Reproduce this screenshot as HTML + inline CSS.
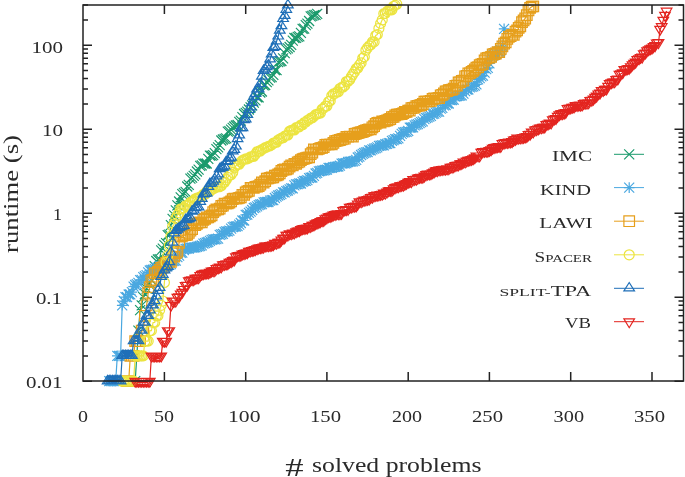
<!DOCTYPE html>
<html><head><meta charset="utf-8"><style>
html,body{margin:0;padding:0;background:#fff;overflow:hidden}
svg{display:block}
text{font-family:"Liberation Serif",serif;fill:#2a2a2a}
svg{-webkit-font-smoothing:antialiased;will-change:transform}
</style></head><body>
<svg width="685" height="477" viewBox="0 0 685 477">
<g stroke="#1a9a6c" fill="none" stroke-width="1.2"><path d="M135.2 381.2L136.8 355.9L138.4 330.6L140.1 310.2L141.7 305.3L143.3 297.2L144.9 293.8L146.6 288.7L148.2 283.6L149.8 283.1L151.4 280.0L153.1 270.4L154.7 266.1L156.3 261.0L157.9 259.5L159.6 259.2L161.2 250.3L162.8 248.7L164.4 245.2L166.1 243.1L167.7 235.1L169.3 234.7L170.9 225.2L172.6 218.8L174.2 215.3L175.8 210.3L177.4 205.4L179.1 201.5L180.7 197.3L182.3 194.1L183.9 192.9L185.6 191.8L187.2 186.5L188.8 184.8L190.4 178.7L192.1 177.6L193.7 175.8L195.3 174.3L196.9 171.5L198.6 169.7L200.2 165.8L201.8 165.4L203.4 163.7L205.1 163.6L206.7 163.5L208.3 158.8L209.9 155.7L211.6 155.7L213.2 155.2L214.8 153.2L216.4 149.1L218.1 147.3L219.7 145.1L221.3 140.5L222.9 139.5L224.6 138.8L226.2 138.3L227.8 131.6L229.4 131.2L231.1 129.7L232.7 127.8L234.3 126.5L235.9 125.5L237.6 125.0L239.2 121.9L240.8 120.6L242.4 117.2L244.1 114.0L245.7 112.9L247.3 111.7L248.9 109.5L250.6 107.3L252.2 105.4L253.8 102.7L255.4 100.4L257.1 97.4L258.7 97.3L260.3 92.5L261.9 91.5L263.6 85.3L265.2 85.0L266.8 82.2L268.4 80.4L270.1 77.6L271.7 77.1L273.3 74.9L274.9 70.2L276.6 70.2L278.2 62.2L279.8 61.4L281.4 61.0L283.1 58.3L284.7 53.2L286.3 49.3L287.9 48.4L289.6 47.0L291.2 44.8L292.8 40.7L294.4 38.0L296.1 37.8L297.7 36.9L299.3 36.3L300.9 32.8L302.6 28.8L304.2 28.6L305.8 25.2L307.4 23.6L309.1 21.0L310.7 16.4L312.3 15.8L313.9 15.2L315.6 14.8L317.2 13.8"/><path d="M130.2 376.2L140.2 386.2M130.2 386.2L140.2 376.2M131.8 350.9L141.8 360.9M131.8 360.9L141.8 350.9M133.4 325.6L143.4 335.6M133.4 335.6L143.4 325.6M135.1 305.2L145.1 315.2M135.1 315.2L145.1 305.2M136.7 300.3L146.7 310.3M136.7 310.3L146.7 300.3M138.3 292.2L148.3 302.2M138.3 302.2L148.3 292.2M139.9 288.8L149.9 298.8M139.9 298.8L149.9 288.8M141.6 283.7L151.6 293.7M141.6 293.7L151.6 283.7M143.2 278.6L153.2 288.6M143.2 288.6L153.2 278.6M144.8 278.1L154.8 288.1M144.8 288.1L154.8 278.1M146.4 275.0L156.4 285.0M146.4 285.0L156.4 275.0M148.1 265.4L158.1 275.4M148.1 275.4L158.1 265.4M149.7 261.1L159.7 271.1M149.7 271.1L159.7 261.1M151.3 256.0L161.3 266.0M151.3 266.0L161.3 256.0M152.9 254.5L162.9 264.5M152.9 264.5L162.9 254.5M154.6 254.2L164.6 264.2M154.6 264.2L164.6 254.2M156.2 245.3L166.2 255.3M156.2 255.3L166.2 245.3M157.8 243.7L167.8 253.7M157.8 253.7L167.8 243.7M159.4 240.2L169.4 250.2M159.4 250.2L169.4 240.2M161.1 238.1L171.1 248.1M161.1 248.1L171.1 238.1M162.7 230.1L172.7 240.1M162.7 240.1L172.7 230.1M164.3 229.7L174.3 239.7M164.3 239.7L174.3 229.7M165.9 220.2L175.9 230.2M165.9 230.2L175.9 220.2M167.6 213.8L177.6 223.8M167.6 223.8L177.6 213.8M169.2 210.3L179.2 220.3M169.2 220.3L179.2 210.3M170.8 205.3L180.8 215.3M170.8 215.3L180.8 205.3M172.4 200.4L182.4 210.4M172.4 210.4L182.4 200.4M174.1 196.5L184.1 206.5M174.1 206.5L184.1 196.5M175.7 192.3L185.7 202.3M175.7 202.3L185.7 192.3M177.3 189.1L187.3 199.1M177.3 199.1L187.3 189.1M178.9 187.9L188.9 197.9M178.9 197.9L188.9 187.9M180.6 186.8L190.6 196.8M180.6 196.8L190.6 186.8M182.2 181.5L192.2 191.5M182.2 191.5L192.2 181.5M183.8 179.8L193.8 189.8M183.8 189.8L193.8 179.8M185.4 173.7L195.4 183.7M185.4 183.7L195.4 173.7M187.1 172.6L197.1 182.6M187.1 182.6L197.1 172.6M188.7 170.8L198.7 180.8M188.7 180.8L198.7 170.8M190.3 169.3L200.3 179.3M190.3 179.3L200.3 169.3M191.9 166.5L201.9 176.5M191.9 176.5L201.9 166.5M193.6 164.7L203.6 174.7M193.6 174.7L203.6 164.7M195.2 160.8L205.2 170.8M195.2 170.8L205.2 160.8M196.8 160.4L206.8 170.4M196.8 170.4L206.8 160.4M198.4 158.7L208.4 168.7M198.4 168.7L208.4 158.7M200.1 158.6L210.1 168.6M200.1 168.6L210.1 158.6M201.7 158.5L211.7 168.5M201.7 168.5L211.7 158.5M203.3 153.8L213.3 163.8M203.3 163.8L213.3 153.8M204.9 150.7L214.9 160.7M204.9 160.7L214.9 150.7M206.6 150.7L216.6 160.7M206.6 160.7L216.6 150.7M208.2 150.2L218.2 160.2M208.2 160.2L218.2 150.2M209.8 148.2L219.8 158.2M209.8 158.2L219.8 148.2M211.4 144.1L221.4 154.1M211.4 154.1L221.4 144.1M213.1 142.3L223.1 152.3M213.1 152.3L223.1 142.3M214.7 140.1L224.7 150.1M214.7 150.1L224.7 140.1M216.3 135.5L226.3 145.5M216.3 145.5L226.3 135.5M217.9 134.5L227.9 144.5M217.9 144.5L227.9 134.5M219.6 133.8L229.6 143.8M219.6 143.8L229.6 133.8M221.2 133.3L231.2 143.3M221.2 143.3L231.2 133.3M222.8 126.6L232.8 136.6M222.8 136.6L232.8 126.6M224.4 126.2L234.4 136.2M224.4 136.2L234.4 126.2M226.1 124.7L236.1 134.7M226.1 134.7L236.1 124.7M227.7 122.8L237.7 132.8M227.7 132.8L237.7 122.8M229.3 121.5L239.3 131.5M229.3 131.5L239.3 121.5M230.9 120.5L240.9 130.5M230.9 130.5L240.9 120.5M232.6 120.0L242.6 130.0M232.6 130.0L242.6 120.0M234.2 116.9L244.2 126.9M234.2 126.9L244.2 116.9M235.8 115.6L245.8 125.6M235.8 125.6L245.8 115.6M237.4 112.2L247.4 122.2M237.4 122.2L247.4 112.2M239.1 109.0L249.1 119.0M239.1 119.0L249.1 109.0M240.7 107.9L250.7 117.9M240.7 117.9L250.7 107.9M242.3 106.7L252.3 116.7M242.3 116.7L252.3 106.7M243.9 104.5L253.9 114.5M243.9 114.5L253.9 104.5M245.6 102.3L255.6 112.3M245.6 112.3L255.6 102.3M247.2 100.4L257.2 110.4M247.2 110.4L257.2 100.4M248.8 97.7L258.8 107.7M248.8 107.7L258.8 97.7M250.4 95.4L260.4 105.4M250.4 105.4L260.4 95.4M252.1 92.4L262.1 102.4M252.1 102.4L262.1 92.4M253.7 92.3L263.7 102.3M253.7 102.3L263.7 92.3M255.3 87.5L265.3 97.5M255.3 97.5L265.3 87.5M256.9 86.5L266.9 96.5M256.9 96.5L266.9 86.5M258.6 80.3L268.6 90.3M258.6 90.3L268.6 80.3M260.2 80.0L270.2 90.0M260.2 90.0L270.2 80.0M261.8 77.2L271.8 87.2M261.8 87.2L271.8 77.2M263.4 75.4L273.4 85.4M263.4 85.4L273.4 75.4M265.1 72.6L275.1 82.6M265.1 82.6L275.1 72.6M266.7 72.1L276.7 82.1M266.7 82.1L276.7 72.1M268.3 69.9L278.3 79.9M268.3 79.9L278.3 69.9M269.9 65.2L279.9 75.2M269.9 75.2L279.9 65.2M271.6 65.2L281.6 75.2M271.6 75.2L281.6 65.2M273.2 57.2L283.2 67.2M273.2 67.2L283.2 57.2M274.8 56.4L284.8 66.4M274.8 66.4L284.8 56.4M276.4 56.0L286.4 66.0M276.4 66.0L286.4 56.0M278.1 53.3L288.1 63.3M278.1 63.3L288.1 53.3M279.7 48.2L289.7 58.2M279.7 58.2L289.7 48.2M281.3 44.3L291.3 54.3M281.3 54.3L291.3 44.3M282.9 43.4L292.9 53.4M282.9 53.4L292.9 43.4M284.6 42.0L294.6 52.0M284.6 52.0L294.6 42.0M286.2 39.8L296.2 49.8M286.2 49.8L296.2 39.8M287.8 35.7L297.8 45.7M287.8 45.7L297.8 35.7M289.4 33.0L299.4 43.0M289.4 43.0L299.4 33.0M291.1 32.8L301.1 42.8M291.1 42.8L301.1 32.8M292.7 31.9L302.7 41.9M292.7 41.9L302.7 31.9M294.3 31.3L304.3 41.3M294.3 41.3L304.3 31.3M295.9 27.8L305.9 37.8M295.9 37.8L305.9 27.8M297.6 23.8L307.6 33.8M297.6 33.8L307.6 23.8M299.2 23.6L309.2 33.6M299.2 33.6L309.2 23.6M300.8 20.2L310.8 30.2M300.8 30.2L310.8 20.2M302.4 18.6L312.4 28.6M302.4 28.6L312.4 18.6M304.1 16.0L314.1 26.0M304.1 26.0L314.1 16.0M305.7 11.4L315.7 21.4M305.7 21.4L315.7 11.4M307.3 10.8L317.3 20.8M307.3 20.8L317.3 10.8M308.9 10.2L318.9 20.2M308.9 20.2L318.9 10.2M310.6 9.8L320.6 19.8M310.6 19.8L320.6 9.8M312.2 8.8L322.2 18.8M312.2 18.8L322.2 8.8"/></g><g stroke="#4aa8e0" fill="none" stroke-width="1.2"><path d="M109.2 381.2L110.8 381.2L112.5 381.2L114.1 381.2L115.7 381.2L117.3 355.9L119.0 355.9L120.6 355.9L122.2 305.3L123.8 301.0L125.5 297.2L127.1 297.2L128.7 294.5L130.3 294.3L131.9 292.1L133.6 286.7L135.2 285.0L136.8 284.2L138.4 282.9L140.1 280.1L141.7 279.9L143.3 277.2L144.9 276.1L146.6 275.2L148.2 272.4L149.8 270.5L151.4 270.0L153.1 269.7L154.7 268.8L156.3 267.6L157.9 267.6L159.6 266.2L161.2 266.1L162.8 266.1L164.4 265.9L166.1 265.7L167.7 265.7L169.3 264.9L170.9 264.1L172.6 261.2L174.2 260.9L175.8 260.6L177.4 257.2L179.1 255.6L180.7 252.9L182.3 252.6L183.9 250.0L185.6 248.9L187.2 248.7L188.8 248.6L190.4 247.7L192.1 247.6L193.7 247.5L195.3 247.3L196.9 246.9L198.6 246.3L200.2 246.0L201.8 245.4L203.4 243.6L205.1 243.2L206.7 242.5L208.3 242.0L209.9 240.8L211.6 239.8L213.2 239.4L214.8 239.3L216.4 239.1L218.1 238.7L219.7 234.9L221.3 234.3L222.9 233.8L224.6 232.0L226.2 231.4L227.8 231.3L229.4 230.7L231.1 228.7L232.7 227.1L234.3 226.7L235.9 226.5L237.6 226.1L239.2 224.7L240.8 223.0L242.4 220.5L244.1 220.5L245.7 214.9L247.3 214.7L248.9 212.8L250.6 211.6L252.2 210.0L253.8 208.0L255.4 207.4L257.1 206.3L258.7 205.1L260.3 204.5L261.9 204.1L263.6 202.4L265.2 202.2L266.8 202.0L268.4 202.0L270.1 200.7L271.7 200.2L273.3 200.1L274.9 198.0L276.6 196.6L278.2 195.5L279.8 194.9L281.4 194.1L283.1 192.4L284.7 192.3L286.3 191.2L287.9 190.5L289.6 189.3L291.2 188.4L292.8 188.3L294.4 185.3L296.1 184.4L297.7 184.2L299.3 183.5L300.9 183.5L302.6 181.8L304.2 181.0L305.8 180.9L307.4 180.2L309.1 178.1L310.7 177.7L312.3 177.5L313.9 175.9L315.6 173.5L317.2 172.8L318.8 171.4L320.4 171.0L322.1 170.6L323.7 170.4L325.3 170.0L326.9 169.6L328.6 168.0L330.2 167.9L331.8 167.9L333.4 167.2L335.1 166.8L336.7 166.6L338.3 166.5L339.9 165.6L341.6 163.6L343.2 163.3L344.8 163.3L346.4 163.2L348.1 162.0L349.7 161.6L351.3 161.6L352.9 161.3L354.6 160.9L356.2 159.9L357.8 157.5L359.4 156.7L361.1 155.0L362.7 153.8L364.3 153.0L365.9 152.3L367.6 152.0L369.2 150.4L370.8 150.3L372.4 149.4L374.1 148.7L375.7 148.1L377.3 147.4L378.9 145.9L380.6 145.7L382.2 145.4L383.8 145.3L385.4 144.2L387.1 143.8L388.7 143.2L390.3 143.1L391.9 140.8L393.6 140.1L395.2 139.2L396.8 139.1L398.4 138.4L400.1 135.9L401.7 133.9L403.3 132.5L404.9 132.2L406.6 131.8L408.2 131.0L409.8 127.6L411.4 127.5L413.1 127.4L414.7 125.3L416.3 124.6L417.9 124.1L419.6 123.2L421.2 122.2L422.8 121.4L424.4 119.1L426.1 118.0L427.7 117.4L429.3 116.6L430.9 115.8L432.6 114.0L434.2 113.7L435.8 112.7L437.4 111.8L439.1 111.7L440.7 108.7L442.3 107.9L443.9 105.3L445.6 105.0L447.2 103.7L448.8 103.5L450.4 100.1L452.1 100.0L453.7 99.6L455.3 96.6L456.9 96.2L458.6 95.9L460.2 95.6L461.8 95.3L463.4 93.7L465.1 91.1L466.7 89.7L468.3 89.5L469.9 87.3L471.6 86.9L473.2 86.4L474.8 85.6L476.4 84.3L478.1 79.3L479.7 78.2L481.3 76.3L482.9 75.6L484.6 72.6L486.2 69.1L487.8 67.8L489.4 63.3L491.1 56.8L492.7 55.5L494.3 55.0L495.9 54.0L497.6 51.7L499.2 51.5L500.8 50.2L502.4 46.1L504.1 28.8"/><path d="M104.2 376.2L114.2 386.2M104.2 386.2L114.2 376.2M109.2 375.9L109.2 386.5M103.9 381.2L114.5 381.2M105.8 376.2L115.8 386.2M105.8 386.2L115.8 376.2M110.8 375.9L110.8 386.5M105.5 381.2L116.1 381.2M107.5 376.2L117.5 386.2M107.5 386.2L117.5 376.2M112.5 375.9L112.5 386.5M107.2 381.2L117.8 381.2M109.1 376.2L119.1 386.2M109.1 386.2L119.1 376.2M114.1 375.9L114.1 386.5M108.8 381.2L119.4 381.2M110.7 376.2L120.7 386.2M110.7 386.2L120.7 376.2M115.7 375.9L115.7 386.5M110.4 381.2L121.0 381.2M112.3 350.9L122.3 360.9M112.3 360.9L122.3 350.9M117.3 350.6L117.3 361.2M112.0 355.9L122.6 355.9M114.0 350.9L124.0 360.9M114.0 360.9L124.0 350.9M119.0 350.6L119.0 361.2M113.7 355.9L124.2 355.9M115.6 350.9L125.6 360.9M115.6 360.9L125.6 350.9M120.6 350.6L120.6 361.2M115.3 355.9L125.9 355.9M117.2 300.3L127.2 310.3M117.2 310.3L127.2 300.3M122.2 300.0L122.2 310.6M116.9 305.3L127.5 305.3M118.8 296.0L128.8 306.0M118.8 306.0L128.8 296.0M123.8 295.7L123.8 306.3M118.5 301.0L129.1 301.0M120.5 292.2L130.4 302.2M120.5 302.2L130.4 292.2M125.5 291.9L125.5 302.5M120.2 297.2L130.8 297.2M122.1 292.2L132.1 302.2M122.1 302.2L132.1 292.2M127.1 291.9L127.1 302.5M121.8 297.2L132.4 297.2M123.7 289.5L133.7 299.5M123.7 299.5L133.7 289.5M128.7 289.2L128.7 299.8M123.4 294.5L134.0 294.5M125.3 289.3L135.3 299.3M125.3 299.3L135.3 289.3M130.3 289.0L130.3 299.6M125.0 294.3L135.6 294.3M126.9 287.1L136.9 297.1M126.9 297.1L136.9 287.1M131.9 286.8L131.9 297.4M126.6 292.1L137.2 292.1M128.6 281.7L138.6 291.7M128.6 291.7L138.6 281.7M133.6 281.4L133.6 292.0M128.3 286.7L138.9 286.7M130.2 280.0L140.2 290.0M130.2 290.0L140.2 280.0M135.2 279.7L135.2 290.3M129.9 285.0L140.5 285.0M131.8 279.2L141.8 289.2M131.8 289.2L141.8 279.2M136.8 278.9L136.8 289.5M131.5 284.2L142.1 284.2M133.4 277.9L143.4 287.9M133.4 287.9L143.4 277.9M138.4 277.6L138.4 288.2M133.1 282.9L143.8 282.9M135.1 275.1L145.1 285.1M135.1 285.1L145.1 275.1M140.1 274.8L140.1 285.4M134.8 280.1L145.4 280.1M136.7 274.9L146.7 284.9M136.7 284.9L146.7 274.9M141.7 274.6L141.7 285.2M136.4 279.9L147.0 279.9M138.3 272.2L148.3 282.2M138.3 282.2L148.3 272.2M143.3 271.9L143.3 282.5M138.0 277.2L148.6 277.2M139.9 271.1L149.9 281.1M139.9 281.1L149.9 271.1M144.9 270.8L144.9 281.4M139.6 276.1L150.2 276.1M141.6 270.2L151.6 280.2M141.6 280.2L151.6 270.2M146.6 269.9L146.6 280.5M141.3 275.2L151.9 275.2M143.2 267.4L153.2 277.4M143.2 277.4L153.2 267.4M148.2 267.1L148.2 277.7M142.9 272.4L153.5 272.4M144.8 265.5L154.8 275.5M144.8 275.5L154.8 265.5M149.8 265.2L149.8 275.8M144.5 270.5L155.1 270.5M146.4 265.0L156.4 275.0M146.4 275.0L156.4 265.0M151.4 264.7L151.4 275.3M146.1 270.0L156.8 270.0M148.1 264.7L158.1 274.7M148.1 274.7L158.1 264.7M153.1 264.4L153.1 275.0M147.8 269.7L158.4 269.7M149.7 263.8L159.7 273.8M149.7 273.8L159.7 263.8M154.7 263.5L154.7 274.1M149.4 268.8L160.0 268.8M151.3 262.6L161.3 272.6M151.3 272.6L161.3 262.6M156.3 262.3L156.3 272.9M151.0 267.6L161.6 267.6M152.9 262.6L162.9 272.6M152.9 272.6L162.9 262.6M157.9 262.3L157.9 272.9M152.6 267.6L163.2 267.6M154.6 261.2L164.6 271.2M154.6 271.2L164.6 261.2M159.6 260.9L159.6 271.5M154.3 266.2L164.9 266.2M156.2 261.1L166.2 271.1M156.2 271.1L166.2 261.1M161.2 260.8L161.2 271.4M155.9 266.1L166.5 266.1M157.8 261.1L167.8 271.1M157.8 271.1L167.8 261.1M162.8 260.8L162.8 271.4M157.5 266.1L168.1 266.1M159.4 260.9L169.4 270.9M159.4 270.9L169.4 260.9M164.4 260.6L164.4 271.2M159.1 265.9L169.8 265.9M161.1 260.7L171.1 270.7M161.1 270.7L171.1 260.7M166.1 260.4L166.1 271.0M160.8 265.7L171.4 265.7M162.7 260.7L172.7 270.7M162.7 270.7L172.7 260.7M167.7 260.4L167.7 271.0M162.4 265.7L173.0 265.7M164.3 259.9L174.3 269.9M164.3 269.9L174.3 259.9M169.3 259.6L169.3 270.2M164.0 264.9L174.6 264.9M165.9 259.1L175.9 269.1M165.9 269.1L175.9 259.1M170.9 258.8L170.9 269.4M165.6 264.1L176.2 264.1M167.6 256.2L177.6 266.2M167.6 266.2L177.6 256.2M172.6 255.9L172.6 266.5M167.3 261.2L177.9 261.2M169.2 255.9L179.2 265.9M169.2 265.9L179.2 255.9M174.2 255.6L174.2 266.2M168.9 260.9L179.5 260.9M170.8 255.6L180.8 265.6M170.8 265.6L180.8 255.6M175.8 255.3L175.8 265.9M170.5 260.6L181.1 260.6M172.4 252.2L182.4 262.2M172.4 262.2L182.4 252.2M177.4 251.9L177.4 262.5M172.1 257.2L182.8 257.2M174.1 250.6L184.1 260.6M174.1 260.6L184.1 250.6M179.1 250.3L179.1 260.9M173.8 255.6L184.4 255.6M175.7 247.9L185.7 257.9M175.7 257.9L185.7 247.9M180.7 247.6L180.7 258.2M175.4 252.9L186.0 252.9M177.3 247.6L187.3 257.6M177.3 257.6L187.3 247.6M182.3 247.3L182.3 257.9M177.0 252.6L187.6 252.6M178.9 245.0L188.9 255.0M178.9 255.0L188.9 245.0M183.9 244.7L183.9 255.3M178.6 250.0L189.2 250.0M180.6 243.9L190.6 253.9M180.6 253.9L190.6 243.9M185.6 243.6L185.6 254.2M180.3 248.9L190.9 248.9M182.2 243.7L192.2 253.7M182.2 253.7L192.2 243.7M187.2 243.4L187.2 254.0M181.9 248.7L192.5 248.7M183.8 243.6L193.8 253.6M183.8 253.6L193.8 243.6M188.8 243.3L188.8 253.9M183.5 248.6L194.1 248.6M185.4 242.7L195.4 252.7M185.4 252.7L195.4 242.7M190.4 242.4L190.4 253.0M185.1 247.7L195.8 247.7M187.1 242.6L197.1 252.6M187.1 252.6L197.1 242.6M192.1 242.3L192.1 252.9M186.8 247.6L197.4 247.6M188.7 242.5L198.7 252.5M188.7 252.5L198.7 242.5M193.7 242.2L193.7 252.8M188.4 247.5L199.0 247.5M190.3 242.3L200.3 252.3M190.3 252.3L200.3 242.3M195.3 242.0L195.3 252.6M190.0 247.3L200.6 247.3M191.9 241.9L201.9 251.9M191.9 251.9L201.9 241.9M196.9 241.6L196.9 252.2M191.6 246.9L202.2 246.9M193.6 241.3L203.6 251.3M193.6 251.3L203.6 241.3M198.6 241.0L198.6 251.6M193.3 246.3L203.9 246.3M195.2 241.0L205.2 251.0M195.2 251.0L205.2 241.0M200.2 240.7L200.2 251.3M194.9 246.0L205.5 246.0M196.8 240.4L206.8 250.4M196.8 250.4L206.8 240.4M201.8 240.1L201.8 250.7M196.5 245.4L207.1 245.4M198.4 238.6L208.4 248.6M198.4 248.6L208.4 238.6M203.4 238.3L203.4 248.9M198.1 243.6L208.8 243.6M200.1 238.2L210.1 248.2M200.1 248.2L210.1 238.2M205.1 237.9L205.1 248.5M199.8 243.2L210.4 243.2M201.7 237.5L211.7 247.5M201.7 247.5L211.7 237.5M206.7 237.2L206.7 247.8M201.4 242.5L212.0 242.5M203.3 237.0L213.3 247.0M203.3 247.0L213.3 237.0M208.3 236.7L208.3 247.3M203.0 242.0L213.6 242.0M204.9 235.8L214.9 245.8M204.9 245.8L214.9 235.8M209.9 235.5L209.9 246.1M204.6 240.8L215.2 240.8M206.6 234.8L216.6 244.8M206.6 244.8L216.6 234.8M211.6 234.5L211.6 245.1M206.3 239.8L216.9 239.8M208.2 234.4L218.2 244.4M208.2 244.4L218.2 234.4M213.2 234.1L213.2 244.7M207.9 239.4L218.5 239.4M209.8 234.3L219.8 244.3M209.8 244.3L219.8 234.3M214.8 234.0L214.8 244.6M209.5 239.3L220.1 239.3M211.4 234.1L221.4 244.1M211.4 244.1L221.4 234.1M216.4 233.8L216.4 244.4M211.1 239.1L221.8 239.1M213.1 233.7L223.1 243.7M213.1 243.7L223.1 233.7M218.1 233.4L218.1 244.0M212.8 238.7L223.4 238.7M214.7 229.9L224.7 239.9M214.7 239.9L224.7 229.9M219.7 229.6L219.7 240.2M214.4 234.9L225.0 234.9M216.3 229.3L226.3 239.3M216.3 239.3L226.3 229.3M221.3 229.0L221.3 239.6M216.0 234.3L226.6 234.3M217.9 228.8L227.9 238.8M217.9 238.8L227.9 228.8M222.9 228.5L222.9 239.1M217.6 233.8L228.2 233.8M219.6 227.0L229.6 237.0M219.6 237.0L229.6 227.0M224.6 226.7L224.6 237.3M219.3 232.0L229.9 232.0M221.2 226.4L231.2 236.4M221.2 236.4L231.2 226.4M226.2 226.1L226.2 236.7M220.9 231.4L231.5 231.4M222.8 226.3L232.8 236.3M222.8 236.3L232.8 226.3M227.8 226.0L227.8 236.6M222.5 231.3L233.1 231.3M224.4 225.7L234.4 235.7M224.4 235.7L234.4 225.7M229.4 225.4L229.4 236.0M224.1 230.7L234.8 230.7M226.1 223.7L236.1 233.7M226.1 233.7L236.1 223.7M231.1 223.4L231.1 234.0M225.8 228.7L236.4 228.7M227.7 222.1L237.7 232.1M227.7 232.1L237.7 222.1M232.7 221.8L232.7 232.4M227.4 227.1L238.0 227.1M229.3 221.7L239.3 231.7M229.3 231.7L239.3 221.7M234.3 221.4L234.3 232.0M229.0 226.7L239.6 226.7M230.9 221.5L240.9 231.5M230.9 231.5L240.9 221.5M235.9 221.2L235.9 231.8M230.6 226.5L241.2 226.5M232.6 221.1L242.6 231.1M232.6 231.1L242.6 221.1M237.6 220.8L237.6 231.4M232.3 226.1L242.9 226.1M234.2 219.7L244.2 229.7M234.2 229.7L244.2 219.7M239.2 219.4L239.2 230.0M233.9 224.7L244.5 224.7M235.8 218.0L245.8 228.0M235.8 228.0L245.8 218.0M240.8 217.7L240.8 228.3M235.5 223.0L246.1 223.0M237.4 215.5L247.4 225.5M237.4 225.5L247.4 215.5M242.4 215.2L242.4 225.8M237.1 220.5L247.8 220.5M239.1 215.5L249.1 225.5M239.1 225.5L249.1 215.5M244.1 215.2L244.1 225.8M238.8 220.5L249.4 220.5M240.7 209.9L250.7 219.9M240.7 219.9L250.7 209.9M245.7 209.6L245.7 220.2M240.4 214.9L251.0 214.9M242.3 209.7L252.3 219.7M242.3 219.7L252.3 209.7M247.3 209.4L247.3 220.0M242.0 214.7L252.6 214.7M243.9 207.8L253.9 217.8M243.9 217.8L253.9 207.8M248.9 207.5L248.9 218.1M243.6 212.8L254.2 212.8M245.6 206.6L255.6 216.6M245.6 216.6L255.6 206.6M250.6 206.3L250.6 216.9M245.3 211.6L255.9 211.6M247.2 205.0L257.2 215.0M247.2 215.0L257.2 205.0M252.2 204.7L252.2 215.3M246.9 210.0L257.5 210.0M248.8 203.0L258.8 213.0M248.8 213.0L258.8 203.0M253.8 202.7L253.8 213.3M248.5 208.0L259.1 208.0M250.4 202.4L260.4 212.4M250.4 212.4L260.4 202.4M255.4 202.1L255.4 212.7M250.1 207.4L260.8 207.4M252.1 201.3L262.1 211.3M252.1 211.3L262.1 201.3M257.1 201.0L257.1 211.6M251.8 206.3L262.4 206.3M253.7 200.1L263.7 210.1M253.7 210.1L263.7 200.1M258.7 199.8L258.7 210.4M253.4 205.1L264.0 205.1M255.3 199.5L265.3 209.5M255.3 209.5L265.3 199.5M260.3 199.2L260.3 209.8M255.0 204.5L265.6 204.5M256.9 199.1L266.9 209.1M256.9 209.1L266.9 199.1M261.9 198.8L261.9 209.4M256.6 204.1L267.2 204.1M258.6 197.4L268.6 207.4M258.6 207.4L268.6 197.4M263.6 197.1L263.6 207.7M258.3 202.4L268.9 202.4M260.2 197.2L270.2 207.2M260.2 207.2L270.2 197.2M265.2 196.9L265.2 207.5M259.9 202.2L270.5 202.2M261.8 197.0L271.8 207.0M261.8 207.0L271.8 197.0M266.8 196.7L266.8 207.3M261.5 202.0L272.1 202.0M263.4 197.0L273.4 207.0M263.4 207.0L273.4 197.0M268.4 196.7L268.4 207.3M263.1 202.0L273.8 202.0M265.1 195.7L275.1 205.7M265.1 205.7L275.1 195.7M270.1 195.4L270.1 206.0M264.8 200.7L275.4 200.7M266.7 195.2L276.7 205.2M266.7 205.2L276.7 195.2M271.7 194.9L271.7 205.5M266.4 200.2L277.0 200.2M268.3 195.1L278.3 205.1M268.3 205.1L278.3 195.1M273.3 194.8L273.3 205.4M268.0 200.1L278.6 200.1M269.9 193.0L279.9 203.0M269.9 203.0L279.9 193.0M274.9 192.7L274.9 203.3M269.6 198.0L280.2 198.0M271.6 191.6L281.6 201.6M271.6 201.6L281.6 191.6M276.6 191.3L276.6 201.9M271.3 196.6L281.9 196.6M273.2 190.5L283.2 200.5M273.2 200.5L283.2 190.5M278.2 190.2L278.2 200.8M272.9 195.5L283.5 195.5M274.8 189.9L284.8 199.9M274.8 199.9L284.8 189.9M279.8 189.6L279.8 200.2M274.5 194.9L285.1 194.9M276.4 189.1L286.4 199.1M276.4 199.1L286.4 189.1M281.4 188.8L281.4 199.4M276.1 194.1L286.8 194.1M278.1 187.4L288.1 197.4M278.1 197.4L288.1 187.4M283.1 187.1L283.1 197.7M277.8 192.4L288.4 192.4M279.7 187.3L289.7 197.3M279.7 197.3L289.7 187.3M284.7 187.0L284.7 197.6M279.4 192.3L290.0 192.3M281.3 186.2L291.3 196.2M281.3 196.2L291.3 186.2M286.3 185.9L286.3 196.5M281.0 191.2L291.6 191.2M282.9 185.5L292.9 195.5M282.9 195.5L292.9 185.5M287.9 185.2L287.9 195.8M282.6 190.5L293.2 190.5M284.6 184.3L294.6 194.3M284.6 194.3L294.6 184.3M289.6 184.0L289.6 194.6M284.3 189.3L294.9 189.3M286.2 183.4L296.2 193.4M286.2 193.4L296.2 183.4M291.2 183.1L291.2 193.7M285.9 188.4L296.5 188.4M287.8 183.3L297.8 193.3M287.8 193.3L297.8 183.3M292.8 183.0L292.8 193.6M287.5 188.3L298.1 188.3M289.4 180.3L299.4 190.3M289.4 190.3L299.4 180.3M294.4 180.0L294.4 190.6M289.1 185.3L299.8 185.3M291.1 179.4L301.1 189.4M291.1 189.4L301.1 179.4M296.1 179.1L296.1 189.7M290.8 184.4L301.4 184.4M292.7 179.2L302.7 189.2M292.7 189.2L302.7 179.2M297.7 178.9L297.7 189.5M292.4 184.2L303.0 184.2M294.3 178.5L304.3 188.5M294.3 188.5L304.3 178.5M299.3 178.2L299.3 188.8M294.0 183.5L304.6 183.5M295.9 178.5L305.9 188.5M295.9 188.5L305.9 178.5M300.9 178.2L300.9 188.8M295.6 183.5L306.2 183.5M297.6 176.8L307.6 186.8M297.6 186.8L307.6 176.8M302.6 176.5L302.6 187.1M297.3 181.8L307.9 181.8M299.2 176.0L309.2 186.0M299.2 186.0L309.2 176.0M304.2 175.7L304.2 186.3M298.9 181.0L309.5 181.0M300.8 175.9L310.8 185.9M300.8 185.9L310.8 175.9M305.8 175.6L305.8 186.2M300.5 180.9L311.1 180.9M302.4 175.2L312.4 185.2M302.4 185.2L312.4 175.2M307.4 174.9L307.4 185.5M302.1 180.2L312.8 180.2M304.1 173.1L314.1 183.1M304.1 183.1L314.1 173.1M309.1 172.8L309.1 183.4M303.8 178.1L314.4 178.1M305.7 172.7L315.7 182.7M305.7 182.7L315.7 172.7M310.7 172.4L310.7 183.0M305.4 177.7L316.0 177.7M307.3 172.5L317.3 182.5M307.3 182.5L317.3 172.5M312.3 172.2L312.3 182.8M307.0 177.5L317.6 177.5M308.9 170.9L318.9 180.9M308.9 180.9L318.9 170.9M313.9 170.6L313.9 181.2M308.6 175.9L319.2 175.9M310.6 168.5L320.6 178.5M310.6 178.5L320.6 168.5M315.6 168.2L315.6 178.8M310.3 173.5L320.9 173.5M312.2 167.8L322.2 177.8M312.2 177.8L322.2 167.8M317.2 167.5L317.2 178.1M311.9 172.8L322.5 172.8M313.8 166.4L323.8 176.4M313.8 176.4L323.8 166.4M318.8 166.1L318.8 176.7M313.5 171.4L324.1 171.4M315.4 166.0L325.4 176.0M315.4 176.0L325.4 166.0M320.4 165.7L320.4 176.3M315.1 171.0L325.8 171.0M317.1 165.6L327.1 175.6M317.1 175.6L327.1 165.6M322.1 165.3L322.1 175.9M316.8 170.6L327.4 170.6M318.7 165.4L328.7 175.4M318.7 175.4L328.7 165.4M323.7 165.1L323.7 175.7M318.4 170.4L329.0 170.4M320.3 165.0L330.3 175.0M320.3 175.0L330.3 165.0M325.3 164.7L325.3 175.3M320.0 170.0L330.6 170.0M321.9 164.6L331.9 174.6M321.9 174.6L331.9 164.6M326.9 164.3L326.9 174.9M321.6 169.6L332.2 169.6M323.6 163.0L333.6 173.0M323.6 173.0L333.6 163.0M328.6 162.7L328.6 173.3M323.3 168.0L333.9 168.0M325.2 162.9L335.2 172.9M325.2 172.9L335.2 162.9M330.2 162.6L330.2 173.2M324.9 167.9L335.5 167.9M326.8 162.9L336.8 172.9M326.8 172.9L336.8 162.9M331.8 162.6L331.8 173.2M326.5 167.9L337.1 167.9M328.4 162.2L338.4 172.2M328.4 172.2L338.4 162.2M333.4 161.9L333.4 172.5M328.1 167.2L338.8 167.2M330.1 161.8L340.1 171.8M330.1 171.8L340.1 161.8M335.1 161.5L335.1 172.1M329.8 166.8L340.4 166.8M331.7 161.6L341.7 171.6M331.7 171.6L341.7 161.6M336.7 161.3L336.7 171.9M331.4 166.6L342.0 166.6M333.3 161.5L343.3 171.5M333.3 171.5L343.3 161.5M338.3 161.2L338.3 171.8M333.0 166.5L343.6 166.5M334.9 160.6L344.9 170.6M334.9 170.6L344.9 160.6M339.9 160.3L339.9 170.9M334.6 165.6L345.2 165.6M336.6 158.6L346.6 168.6M336.6 168.6L346.6 158.6M341.6 158.3L341.6 168.9M336.3 163.6L346.9 163.6M338.2 158.3L348.2 168.3M338.2 168.3L348.2 158.3M343.2 158.0L343.2 168.6M337.9 163.3L348.5 163.3M339.8 158.3L349.8 168.3M339.8 168.3L349.8 158.3M344.8 158.0L344.8 168.6M339.5 163.3L350.1 163.3M341.4 158.2L351.4 168.2M341.4 168.2L351.4 158.2M346.4 157.9L346.4 168.5M341.1 163.2L351.8 163.2M343.1 157.0L353.1 167.0M343.1 167.0L353.1 157.0M348.1 156.7L348.1 167.3M342.8 162.0L353.4 162.0M344.7 156.6L354.7 166.6M344.7 166.6L354.7 156.6M349.7 156.3L349.7 166.9M344.4 161.6L355.0 161.6M346.3 156.6L356.3 166.6M346.3 166.6L356.3 156.6M351.3 156.3L351.3 166.9M346.0 161.6L356.6 161.6M347.9 156.3L357.9 166.3M347.9 166.3L357.9 156.3M352.9 156.0L352.9 166.6M347.6 161.3L358.2 161.3M349.6 155.9L359.6 165.9M349.6 165.9L359.6 155.9M354.6 155.6L354.6 166.2M349.3 160.9L359.9 160.9M351.2 154.9L361.2 164.9M351.2 164.9L361.2 154.9M356.2 154.6L356.2 165.2M350.9 159.9L361.5 159.9M352.8 152.5L362.8 162.5M352.8 162.5L362.8 152.5M357.8 152.2L357.8 162.8M352.5 157.5L363.1 157.5M354.4 151.7L364.4 161.7M354.4 161.7L364.4 151.7M359.4 151.4L359.4 162.0M354.1 156.7L364.8 156.7M356.1 150.0L366.1 160.0M356.1 160.0L366.1 150.0M361.1 149.7L361.1 160.3M355.8 155.0L366.4 155.0M357.7 148.8L367.7 158.8M357.7 158.8L367.7 148.8M362.7 148.5L362.7 159.1M357.4 153.8L368.0 153.8M359.3 148.0L369.3 158.0M359.3 158.0L369.3 148.0M364.3 147.7L364.3 158.3M359.0 153.0L369.6 153.0M360.9 147.3L370.9 157.3M360.9 157.3L370.9 147.3M365.9 147.0L365.9 157.6M360.6 152.3L371.2 152.3M362.6 147.0L372.6 157.0M362.6 157.0L372.6 147.0M367.6 146.7L367.6 157.3M362.3 152.0L372.9 152.0M364.2 145.4L374.2 155.4M364.2 155.4L374.2 145.4M369.2 145.1L369.2 155.7M363.9 150.4L374.5 150.4M365.8 145.3L375.8 155.3M365.8 155.3L375.8 145.3M370.8 145.0L370.8 155.6M365.5 150.3L376.1 150.3M367.4 144.4L377.4 154.4M367.4 154.4L377.4 144.4M372.4 144.1L372.4 154.7M367.1 149.4L377.8 149.4M369.1 143.7L379.1 153.7M369.1 153.7L379.1 143.7M374.1 143.4L374.1 154.0M368.8 148.7L379.4 148.7M370.7 143.1L380.7 153.1M370.7 153.1L380.7 143.1M375.7 142.8L375.7 153.4M370.4 148.1L381.0 148.1M372.3 142.4L382.3 152.4M372.3 152.4L382.3 142.4M377.3 142.1L377.3 152.7M372.0 147.4L382.6 147.4M373.9 140.9L383.9 150.9M373.9 150.9L383.9 140.9M378.9 140.6L378.9 151.2M373.6 145.9L384.2 145.9M375.6 140.7L385.6 150.7M375.6 150.7L385.6 140.7M380.6 140.4L380.6 151.0M375.3 145.7L385.9 145.7M377.2 140.4L387.2 150.4M377.2 150.4L387.2 140.4M382.2 140.1L382.2 150.7M376.9 145.4L387.5 145.4M378.8 140.3L388.8 150.3M378.8 150.3L388.8 140.3M383.8 140.0L383.8 150.6M378.5 145.3L389.1 145.3M380.4 139.2L390.4 149.2M380.4 149.2L390.4 139.2M385.4 138.9L385.4 149.5M380.1 144.2L390.8 144.2M382.1 138.8L392.1 148.8M382.1 148.8L392.1 138.8M387.1 138.5L387.1 149.1M381.8 143.8L392.4 143.8M383.7 138.2L393.7 148.2M383.7 148.2L393.7 138.2M388.7 137.9L388.7 148.5M383.4 143.2L394.0 143.2M385.3 138.1L395.3 148.1M385.3 148.1L395.3 138.1M390.3 137.8L390.3 148.4M385.0 143.1L395.6 143.1M386.9 135.8L396.9 145.8M386.9 145.8L396.9 135.8M391.9 135.5L391.9 146.1M386.6 140.8L397.2 140.8M388.6 135.1L398.6 145.1M388.6 145.1L398.6 135.1M393.6 134.8L393.6 145.4M388.3 140.1L398.9 140.1M390.2 134.2L400.2 144.2M390.2 144.2L400.2 134.2M395.2 133.9L395.2 144.5M389.9 139.2L400.5 139.2M391.8 134.1L401.8 144.1M391.8 144.1L401.8 134.1M396.8 133.8L396.8 144.4M391.5 139.1L402.1 139.1M393.4 133.4L403.4 143.4M393.4 143.4L403.4 133.4M398.4 133.1L398.4 143.7M393.1 138.4L403.8 138.4M395.1 130.9L405.1 140.9M395.1 140.9L405.1 130.9M400.1 130.6L400.1 141.2M394.8 135.9L405.4 135.9M396.7 128.9L406.7 138.9M396.7 138.9L406.7 128.9M401.7 128.6L401.7 139.2M396.4 133.9L407.0 133.9M398.3 127.5L408.3 137.5M398.3 137.5L408.3 127.5M403.3 127.2L403.3 137.8M398.0 132.5L408.6 132.5M399.9 127.2L409.9 137.2M399.9 137.2L409.9 127.2M404.9 126.9L404.9 137.5M399.6 132.2L410.2 132.2M401.6 126.8L411.6 136.8M401.6 136.8L411.6 126.8M406.6 126.5L406.6 137.1M401.3 131.8L411.9 131.8M403.2 126.0L413.2 136.0M403.2 136.0L413.2 126.0M408.2 125.7L408.2 136.3M402.9 131.0L413.5 131.0M404.8 122.6L414.8 132.6M404.8 132.6L414.8 122.6M409.8 122.3L409.8 132.9M404.5 127.6L415.1 127.6M406.4 122.5L416.4 132.5M406.4 132.5L416.4 122.5M411.4 122.2L411.4 132.8M406.1 127.5L416.8 127.5M408.1 122.4L418.1 132.4M408.1 132.4L418.1 122.4M413.1 122.1L413.1 132.7M407.8 127.4L418.4 127.4M409.7 120.3L419.7 130.3M409.7 130.3L419.7 120.3M414.7 120.0L414.7 130.6M409.4 125.3L420.0 125.3M411.3 119.6L421.3 129.6M411.3 129.6L421.3 119.6M416.3 119.3L416.3 129.9M411.0 124.6L421.6 124.6M412.9 119.1L422.9 129.1M412.9 129.1L422.9 119.1M417.9 118.8L417.9 129.4M412.6 124.1L423.2 124.1M414.6 118.2L424.6 128.2M414.6 128.2L424.6 118.2M419.6 117.9L419.6 128.5M414.3 123.2L424.9 123.2M416.2 117.2L426.2 127.2M416.2 127.2L426.2 117.2M421.2 116.9L421.2 127.5M415.9 122.2L426.5 122.2M417.8 116.4L427.8 126.4M417.8 126.4L427.8 116.4M422.8 116.1L422.8 126.7M417.5 121.4L428.1 121.4M419.4 114.1L429.4 124.1M419.4 124.1L429.4 114.1M424.4 113.8L424.4 124.4M419.1 119.1L429.8 119.1M421.1 113.0L431.1 123.0M421.1 123.0L431.1 113.0M426.1 112.7L426.1 123.3M420.8 118.0L431.4 118.0M422.7 112.4L432.7 122.4M422.7 122.4L432.7 112.4M427.7 112.1L427.7 122.7M422.4 117.4L433.0 117.4M424.3 111.6L434.3 121.6M424.3 121.6L434.3 111.6M429.3 111.3L429.3 121.9M424.0 116.6L434.6 116.6M425.9 110.8L435.9 120.8M425.9 120.8L435.9 110.8M430.9 110.5L430.9 121.1M425.6 115.8L436.2 115.8M427.6 109.0L437.6 119.0M427.6 119.0L437.6 109.0M432.6 108.7L432.6 119.3M427.3 114.0L437.9 114.0M429.2 108.7L439.2 118.7M429.2 118.7L439.2 108.7M434.2 108.4L434.2 119.0M428.9 113.7L439.5 113.7M430.8 107.7L440.8 117.7M430.8 117.7L440.8 107.7M435.8 107.4L435.8 118.0M430.5 112.7L441.1 112.7M432.4 106.8L442.4 116.8M432.4 116.8L442.4 106.8M437.4 106.5L437.4 117.1M432.1 111.8L442.8 111.8M434.1 106.7L444.1 116.7M434.1 116.7L444.1 106.7M439.1 106.4L439.1 117.0M433.8 111.7L444.4 111.7M435.7 103.7L445.7 113.7M435.7 113.7L445.7 103.7M440.7 103.4L440.7 114.0M435.4 108.7L446.0 108.7M437.3 102.9L447.3 112.9M437.3 112.9L447.3 102.9M442.3 102.6L442.3 113.2M437.0 107.9L447.6 107.9M438.9 100.3L448.9 110.3M438.9 110.3L448.9 100.3M443.9 100.0L443.9 110.6M438.6 105.3L449.2 105.3M440.6 100.0L450.6 110.0M440.6 110.0L450.6 100.0M445.6 99.7L445.6 110.3M440.3 105.0L450.9 105.0M442.2 98.7L452.2 108.7M442.2 108.7L452.2 98.7M447.2 98.4L447.2 109.0M441.9 103.7L452.5 103.7M443.8 98.5L453.8 108.5M443.8 108.5L453.8 98.5M448.8 98.2L448.8 108.8M443.5 103.5L454.1 103.5M445.4 95.1L455.4 105.1M445.4 105.1L455.4 95.1M450.4 94.8L450.4 105.4M445.1 100.1L455.8 100.1M447.1 95.0L457.1 105.0M447.1 105.0L457.1 95.0M452.1 94.7L452.1 105.3M446.8 100.0L457.4 100.0M448.7 94.6L458.7 104.6M448.7 104.6L458.7 94.6M453.7 94.3L453.7 104.9M448.4 99.6L459.0 99.6M450.3 91.6L460.3 101.6M450.3 101.6L460.3 91.6M455.3 91.3L455.3 101.9M450.0 96.6L460.6 96.6M451.9 91.2L461.9 101.2M451.9 101.2L461.9 91.2M456.9 90.9L456.9 101.5M451.6 96.2L462.2 96.2M453.6 90.9L463.6 100.9M453.6 100.9L463.6 90.9M458.6 90.6L458.6 101.2M453.3 95.9L463.9 95.9M455.2 90.6L465.2 100.6M455.2 100.6L465.2 90.6M460.2 90.3L460.2 100.9M454.9 95.6L465.5 95.6M456.8 90.3L466.8 100.3M456.8 100.3L466.8 90.3M461.8 90.0L461.8 100.6M456.5 95.3L467.1 95.3M458.4 88.7L468.4 98.7M458.4 98.7L468.4 88.7M463.4 88.4L463.4 99.0M458.1 93.7L468.8 93.7M460.1 86.1L470.1 96.1M460.1 96.1L470.1 86.1M465.1 85.8L465.1 96.4M459.8 91.1L470.4 91.1M461.7 84.7L471.7 94.7M461.7 94.7L471.7 84.7M466.7 84.4L466.7 95.0M461.4 89.7L472.0 89.7M463.3 84.5L473.3 94.5M463.3 94.5L473.3 84.5M468.3 84.2L468.3 94.8M463.0 89.5L473.6 89.5M464.9 82.3L474.9 92.3M464.9 92.3L474.9 82.3M469.9 82.0L469.9 92.6M464.6 87.3L475.2 87.3M466.6 81.9L476.6 91.9M466.6 91.9L476.6 81.9M471.6 81.6L471.6 92.2M466.3 86.9L476.9 86.9M468.2 81.4L478.2 91.4M468.2 91.4L478.2 81.4M473.2 81.1L473.2 91.7M467.9 86.4L478.5 86.4M469.8 80.6L479.8 90.6M469.8 90.6L479.8 80.6M474.8 80.3L474.8 90.9M469.5 85.6L480.1 85.6M471.4 79.3L481.4 89.3M471.4 89.3L481.4 79.3M476.4 79.0L476.4 89.6M471.1 84.3L481.8 84.3M473.1 74.3L483.1 84.3M473.1 84.3L483.1 74.3M478.1 74.0L478.1 84.6M472.8 79.3L483.4 79.3M474.7 73.2L484.7 83.2M474.7 83.2L484.7 73.2M479.7 72.9L479.7 83.5M474.4 78.2L485.0 78.2M476.3 71.3L486.3 81.3M476.3 81.3L486.3 71.3M481.3 71.0L481.3 81.6M476.0 76.3L486.6 76.3M477.9 70.6L487.9 80.6M477.9 80.6L487.9 70.6M482.9 70.3L482.9 80.9M477.6 75.6L488.2 75.6M479.6 67.6L489.6 77.6M479.6 77.6L489.6 67.6M484.6 67.3L484.6 77.9M479.3 72.6L489.9 72.6M481.2 64.1L491.2 74.1M481.2 74.1L491.2 64.1M486.2 63.8L486.2 74.4M480.9 69.1L491.5 69.1M482.8 62.8L492.8 72.8M482.8 72.8L492.8 62.8M487.8 62.5L487.8 73.1M482.5 67.8L493.1 67.8M484.4 58.3L494.4 68.3M484.4 68.3L494.4 58.3M489.4 58.0L489.4 68.6M484.1 63.3L494.8 63.3M486.1 51.8L496.1 61.8M486.1 61.8L496.1 51.8M491.1 51.5L491.1 62.1M485.8 56.8L496.4 56.8M487.7 50.5L497.7 60.5M487.7 60.5L497.7 50.5M492.7 50.2L492.7 60.8M487.4 55.5L498.0 55.5M489.3 50.0L499.3 60.0M489.3 60.0L499.3 50.0M494.3 49.7L494.3 60.3M489.0 55.0L499.6 55.0M490.9 49.0L500.9 59.0M490.9 59.0L500.9 49.0M495.9 48.7L495.9 59.3M490.6 54.0L501.2 54.0M492.6 46.7L502.6 56.7M492.6 56.7L502.6 46.7M497.6 46.4L497.6 57.0M492.3 51.7L502.9 51.7M494.2 46.5L504.2 56.5M494.2 56.5L504.2 46.5M499.2 46.2L499.2 56.8M493.9 51.5L504.5 51.5M495.8 45.2L505.8 55.2M495.8 55.2L505.8 45.2M500.8 44.9L500.8 55.5M495.5 50.2L506.1 50.2M497.4 41.1L507.4 51.1M497.4 51.1L507.4 41.1M502.4 40.8L502.4 51.4M497.1 46.1L507.8 46.1M499.1 23.8L509.1 33.8M499.1 33.8L509.1 23.8M504.1 23.5L504.1 34.1M498.8 28.8L509.4 28.8"/></g><g stroke="#e69f1c" fill="none" stroke-width="1.2"><path d="M127.1 381.2L128.7 381.2L130.3 355.9L131.9 355.9L133.6 355.9L135.2 341.1L136.8 341.1L138.4 341.1L140.1 341.1L141.7 330.6L143.3 330.6L144.9 315.8L146.6 305.3L148.2 292.8L149.8 287.1L151.4 280.6L153.1 279.9L154.7 273.4L156.3 273.1L157.9 272.0L159.6 270.0L161.2 268.0L162.8 267.3L164.4 264.9L166.1 263.0L167.7 262.2L169.3 261.9L170.9 261.8L172.6 256.7L174.2 256.6L175.8 253.1L177.4 251.7L179.1 242.8L180.7 236.5L182.3 235.9L183.9 235.1L185.6 235.0L187.2 234.5L188.8 232.8L190.4 230.7L192.1 229.1L193.7 225.2L195.3 225.2L196.9 223.9L198.6 222.6L200.2 222.3L201.8 222.3L203.4 219.9L205.1 218.9L206.7 217.5L208.3 217.4L209.9 216.4L211.6 215.4L213.2 212.1L214.8 210.7L216.4 209.5L218.1 209.4L219.7 208.6L221.3 206.0L222.9 205.6L224.6 203.6L226.2 203.6L227.8 203.4L229.4 202.5L231.1 201.4L232.7 199.2L234.3 198.7L235.9 198.6L237.6 198.4L239.2 197.9L240.8 197.4L242.4 194.9L244.1 194.9L245.7 192.4L247.3 191.4L248.9 190.9L250.6 187.9L252.2 187.9L253.8 187.9L255.4 186.8L257.1 186.6L258.7 186.1L260.3 184.6L261.9 182.5L263.6 182.5L265.2 181.2L266.8 178.6L268.4 178.3L270.1 177.9L271.7 177.5L273.3 177.3L274.9 175.6L276.6 175.3L278.2 174.5L279.8 173.3L281.4 171.0L283.1 169.9L284.7 169.5L286.3 169.3L287.9 168.6L289.6 166.6L291.2 165.3L292.8 165.3L294.4 163.9L296.1 163.8L297.7 162.4L299.3 161.7L300.9 160.2L302.6 159.2L304.2 158.6L305.8 158.1L307.4 157.7L309.1 157.4L310.7 154.2L312.3 152.6L313.9 149.4L315.6 149.3L317.2 149.3L318.8 148.8L320.4 148.2L322.1 147.9L323.7 147.1L325.3 144.9L326.9 144.6L328.6 144.6L330.2 144.4L331.8 144.4L333.4 142.9L335.1 141.2L336.7 140.9L338.3 140.4L339.9 140.0L341.6 139.3L343.2 138.8L344.8 138.7L346.4 136.9L348.1 136.8L349.7 136.7L351.3 136.6L352.9 136.6L354.6 134.0L356.2 133.7L357.8 133.1L359.4 132.7L361.1 132.2L362.7 131.8L364.3 131.0L365.9 130.3L367.6 129.9L369.2 129.4L370.8 129.3L372.4 127.3L374.1 126.1L375.7 123.9L377.3 122.9L378.9 122.7L380.6 122.6L382.2 121.4L383.8 121.3L385.4 120.9L387.1 120.3L388.7 119.6L390.3 119.0L391.9 117.1L393.6 116.9L395.2 115.4L396.8 114.6L398.4 114.4L400.1 114.1L401.7 114.0L403.3 113.1L404.9 112.0L406.6 111.9L408.2 110.7L409.8 110.5L411.4 108.1L413.1 107.8L414.7 107.6L416.3 106.2L417.9 105.8L419.6 105.5L421.2 105.0L422.8 104.0L424.4 101.6L426.1 101.5L427.7 101.4L429.3 101.2L430.9 100.9L432.6 99.0L434.2 98.5L435.8 98.4L437.4 98.2L439.1 98.0L440.7 95.3L442.3 94.8L443.9 93.5L445.6 91.4L447.2 91.1L448.8 90.2L450.4 89.8L452.1 89.7L453.7 88.6L455.3 85.9L456.9 85.6L458.6 82.5L460.2 82.2L461.8 80.8L463.4 80.6L465.1 76.3L466.7 75.9L468.3 73.5L469.9 73.2L471.6 71.8L473.2 70.8L474.8 69.5L476.4 67.7L478.1 67.2L479.7 65.2L481.3 64.5L482.9 63.9L484.6 60.5L486.2 58.5L487.8 57.9L489.4 57.6L491.1 56.8L492.7 54.5L494.3 54.0L495.9 53.5L497.6 52.2L499.2 52.1L500.8 48.9L502.4 46.4L504.1 43.7L505.7 42.4L507.3 38.9L508.9 36.8L510.6 36.2L512.2 34.9L513.8 34.8L515.5 31.7L517.1 30.4L518.7 27.9L520.3 26.3L522.0 22.1L523.6 20.4L525.2 18.5L526.8 15.1L528.5 10.4L530.1 7.9L531.7 6.7L533.3 6.4"/><path d="M121.8 375.9h10.6v10.6h-10.6zM123.4 375.9h10.6v10.6h-10.6zM125.0 350.6h10.6v10.6h-10.6zM126.6 350.6h10.6v10.6h-10.6zM128.3 350.6h10.6v10.6h-10.6zM129.9 335.8h10.6v10.6h-10.6zM131.5 335.8h10.6v10.6h-10.6zM133.1 335.8h10.6v10.6h-10.6zM134.8 335.8h10.6v10.6h-10.6zM136.4 325.3h10.6v10.6h-10.6zM138.0 325.3h10.6v10.6h-10.6zM139.6 310.5h10.6v10.6h-10.6zM141.3 300.0h10.6v10.6h-10.6zM142.9 287.5h10.6v10.6h-10.6zM144.5 281.8h10.6v10.6h-10.6zM146.1 275.3h10.6v10.6h-10.6zM147.8 274.6h10.6v10.6h-10.6zM149.4 268.1h10.6v10.6h-10.6zM151.0 267.8h10.6v10.6h-10.6zM152.6 266.7h10.6v10.6h-10.6zM154.3 264.7h10.6v10.6h-10.6zM155.9 262.7h10.6v10.6h-10.6zM157.5 262.0h10.6v10.6h-10.6zM159.1 259.6h10.6v10.6h-10.6zM160.8 257.7h10.6v10.6h-10.6zM162.4 256.9h10.6v10.6h-10.6zM164.0 256.6h10.6v10.6h-10.6zM165.6 256.5h10.6v10.6h-10.6zM167.3 251.4h10.6v10.6h-10.6zM168.9 251.3h10.6v10.6h-10.6zM170.5 247.8h10.6v10.6h-10.6zM172.1 246.4h10.6v10.6h-10.6zM173.8 237.5h10.6v10.6h-10.6zM175.4 231.2h10.6v10.6h-10.6zM177.0 230.6h10.6v10.6h-10.6zM178.6 229.8h10.6v10.6h-10.6zM180.3 229.7h10.6v10.6h-10.6zM181.9 229.2h10.6v10.6h-10.6zM183.5 227.5h10.6v10.6h-10.6zM185.1 225.4h10.6v10.6h-10.6zM186.8 223.8h10.6v10.6h-10.6zM188.4 219.9h10.6v10.6h-10.6zM190.0 219.9h10.6v10.6h-10.6zM191.6 218.6h10.6v10.6h-10.6zM193.3 217.3h10.6v10.6h-10.6zM194.9 217.0h10.6v10.6h-10.6zM196.5 217.0h10.6v10.6h-10.6zM198.1 214.6h10.6v10.6h-10.6zM199.8 213.6h10.6v10.6h-10.6zM201.4 212.2h10.6v10.6h-10.6zM203.0 212.1h10.6v10.6h-10.6zM204.6 211.1h10.6v10.6h-10.6zM206.3 210.1h10.6v10.6h-10.6zM207.9 206.8h10.6v10.6h-10.6zM209.5 205.4h10.6v10.6h-10.6zM211.1 204.2h10.6v10.6h-10.6zM212.8 204.1h10.6v10.6h-10.6zM214.4 203.3h10.6v10.6h-10.6zM216.0 200.7h10.6v10.6h-10.6zM217.6 200.3h10.6v10.6h-10.6zM219.3 198.3h10.6v10.6h-10.6zM220.9 198.3h10.6v10.6h-10.6zM222.5 198.1h10.6v10.6h-10.6zM224.1 197.2h10.6v10.6h-10.6zM225.8 196.1h10.6v10.6h-10.6zM227.4 193.9h10.6v10.6h-10.6zM229.0 193.4h10.6v10.6h-10.6zM230.6 193.3h10.6v10.6h-10.6zM232.3 193.1h10.6v10.6h-10.6zM233.9 192.6h10.6v10.6h-10.6zM235.5 192.1h10.6v10.6h-10.6zM237.1 189.6h10.6v10.6h-10.6zM238.8 189.6h10.6v10.6h-10.6zM240.4 187.1h10.6v10.6h-10.6zM242.0 186.1h10.6v10.6h-10.6zM243.6 185.6h10.6v10.6h-10.6zM245.3 182.6h10.6v10.6h-10.6zM246.9 182.6h10.6v10.6h-10.6zM248.5 182.6h10.6v10.6h-10.6zM250.1 181.5h10.6v10.6h-10.6zM251.8 181.3h10.6v10.6h-10.6zM253.4 180.8h10.6v10.6h-10.6zM255.0 179.3h10.6v10.6h-10.6zM256.6 177.2h10.6v10.6h-10.6zM258.3 177.2h10.6v10.6h-10.6zM259.9 175.9h10.6v10.6h-10.6zM261.5 173.3h10.6v10.6h-10.6zM263.1 173.0h10.6v10.6h-10.6zM264.8 172.6h10.6v10.6h-10.6zM266.4 172.2h10.6v10.6h-10.6zM268.0 172.0h10.6v10.6h-10.6zM269.6 170.3h10.6v10.6h-10.6zM271.3 170.0h10.6v10.6h-10.6zM272.9 169.2h10.6v10.6h-10.6zM274.5 168.0h10.6v10.6h-10.6zM276.1 165.7h10.6v10.6h-10.6zM277.8 164.6h10.6v10.6h-10.6zM279.4 164.2h10.6v10.6h-10.6zM281.0 164.0h10.6v10.6h-10.6zM282.6 163.3h10.6v10.6h-10.6zM284.3 161.3h10.6v10.6h-10.6zM285.9 160.0h10.6v10.6h-10.6zM287.5 160.0h10.6v10.6h-10.6zM289.1 158.6h10.6v10.6h-10.6zM290.8 158.5h10.6v10.6h-10.6zM292.4 157.1h10.6v10.6h-10.6zM294.0 156.4h10.6v10.6h-10.6zM295.6 154.9h10.6v10.6h-10.6zM297.3 153.9h10.6v10.6h-10.6zM298.9 153.3h10.6v10.6h-10.6zM300.5 152.8h10.6v10.6h-10.6zM302.1 152.4h10.6v10.6h-10.6zM303.8 152.1h10.6v10.6h-10.6zM305.4 148.9h10.6v10.6h-10.6zM307.0 147.3h10.6v10.6h-10.6zM308.6 144.1h10.6v10.6h-10.6zM310.3 144.0h10.6v10.6h-10.6zM311.9 144.0h10.6v10.6h-10.6zM313.5 143.5h10.6v10.6h-10.6zM315.1 142.9h10.6v10.6h-10.6zM316.8 142.6h10.6v10.6h-10.6zM318.4 141.8h10.6v10.6h-10.6zM320.0 139.6h10.6v10.6h-10.6zM321.6 139.3h10.6v10.6h-10.6zM323.3 139.3h10.6v10.6h-10.6zM324.9 139.1h10.6v10.6h-10.6zM326.5 139.1h10.6v10.6h-10.6zM328.1 137.6h10.6v10.6h-10.6zM329.8 135.9h10.6v10.6h-10.6zM331.4 135.6h10.6v10.6h-10.6zM333.0 135.1h10.6v10.6h-10.6zM334.6 134.7h10.6v10.6h-10.6zM336.3 134.0h10.6v10.6h-10.6zM337.9 133.5h10.6v10.6h-10.6zM339.5 133.4h10.6v10.6h-10.6zM341.1 131.6h10.6v10.6h-10.6zM342.8 131.5h10.6v10.6h-10.6zM344.4 131.4h10.6v10.6h-10.6zM346.0 131.3h10.6v10.6h-10.6zM347.6 131.3h10.6v10.6h-10.6zM349.3 128.7h10.6v10.6h-10.6zM350.9 128.4h10.6v10.6h-10.6zM352.5 127.8h10.6v10.6h-10.6zM354.1 127.4h10.6v10.6h-10.6zM355.8 126.9h10.6v10.6h-10.6zM357.4 126.5h10.6v10.6h-10.6zM359.0 125.7h10.6v10.6h-10.6zM360.6 125.0h10.6v10.6h-10.6zM362.3 124.6h10.6v10.6h-10.6zM363.9 124.1h10.6v10.6h-10.6zM365.5 124.0h10.6v10.6h-10.6zM367.1 122.0h10.6v10.6h-10.6zM368.8 120.8h10.6v10.6h-10.6zM370.4 118.6h10.6v10.6h-10.6zM372.0 117.6h10.6v10.6h-10.6zM373.6 117.4h10.6v10.6h-10.6zM375.3 117.3h10.6v10.6h-10.6zM376.9 116.1h10.6v10.6h-10.6zM378.5 116.0h10.6v10.6h-10.6zM380.1 115.6h10.6v10.6h-10.6zM381.8 115.0h10.6v10.6h-10.6zM383.4 114.3h10.6v10.6h-10.6zM385.0 113.7h10.6v10.6h-10.6zM386.6 111.8h10.6v10.6h-10.6zM388.3 111.6h10.6v10.6h-10.6zM389.9 110.1h10.6v10.6h-10.6zM391.5 109.3h10.6v10.6h-10.6zM393.1 109.1h10.6v10.6h-10.6zM394.8 108.8h10.6v10.6h-10.6zM396.4 108.7h10.6v10.6h-10.6zM398.0 107.8h10.6v10.6h-10.6zM399.6 106.7h10.6v10.6h-10.6zM401.3 106.6h10.6v10.6h-10.6zM402.9 105.4h10.6v10.6h-10.6zM404.5 105.2h10.6v10.6h-10.6zM406.1 102.8h10.6v10.6h-10.6zM407.8 102.5h10.6v10.6h-10.6zM409.4 102.3h10.6v10.6h-10.6zM411.0 100.9h10.6v10.6h-10.6zM412.6 100.5h10.6v10.6h-10.6zM414.3 100.2h10.6v10.6h-10.6zM415.9 99.7h10.6v10.6h-10.6zM417.5 98.7h10.6v10.6h-10.6zM419.1 96.3h10.6v10.6h-10.6zM420.8 96.2h10.6v10.6h-10.6zM422.4 96.1h10.6v10.6h-10.6zM424.0 95.9h10.6v10.6h-10.6zM425.6 95.6h10.6v10.6h-10.6zM427.3 93.7h10.6v10.6h-10.6zM428.9 93.2h10.6v10.6h-10.6zM430.5 93.1h10.6v10.6h-10.6zM432.1 92.9h10.6v10.6h-10.6zM433.8 92.7h10.6v10.6h-10.6zM435.4 90.0h10.6v10.6h-10.6zM437.0 89.5h10.6v10.6h-10.6zM438.6 88.2h10.6v10.6h-10.6zM440.3 86.1h10.6v10.6h-10.6zM441.9 85.8h10.6v10.6h-10.6zM443.5 84.9h10.6v10.6h-10.6zM445.1 84.5h10.6v10.6h-10.6zM446.8 84.4h10.6v10.6h-10.6zM448.4 83.3h10.6v10.6h-10.6zM450.0 80.6h10.6v10.6h-10.6zM451.6 80.3h10.6v10.6h-10.6zM453.3 77.2h10.6v10.6h-10.6zM454.9 76.9h10.6v10.6h-10.6zM456.5 75.5h10.6v10.6h-10.6zM458.1 75.3h10.6v10.6h-10.6zM459.8 71.0h10.6v10.6h-10.6zM461.4 70.6h10.6v10.6h-10.6zM463.0 68.2h10.6v10.6h-10.6zM464.6 67.9h10.6v10.6h-10.6zM466.3 66.5h10.6v10.6h-10.6zM467.9 65.5h10.6v10.6h-10.6zM469.5 64.2h10.6v10.6h-10.6zM471.1 62.4h10.6v10.6h-10.6zM472.8 61.9h10.6v10.6h-10.6zM474.4 59.9h10.6v10.6h-10.6zM476.0 59.2h10.6v10.6h-10.6zM477.6 58.6h10.6v10.6h-10.6zM479.3 55.2h10.6v10.6h-10.6zM480.9 53.2h10.6v10.6h-10.6zM482.5 52.6h10.6v10.6h-10.6zM484.1 52.3h10.6v10.6h-10.6zM485.8 51.5h10.6v10.6h-10.6zM487.4 49.2h10.6v10.6h-10.6zM489.0 48.7h10.6v10.6h-10.6zM490.6 48.2h10.6v10.6h-10.6zM492.3 46.9h10.6v10.6h-10.6zM493.9 46.8h10.6v10.6h-10.6zM495.5 43.6h10.6v10.6h-10.6zM497.1 41.1h10.6v10.6h-10.6zM498.8 38.4h10.6v10.6h-10.6zM500.4 37.1h10.6v10.6h-10.6zM502.0 33.6h10.6v10.6h-10.6zM503.6 31.5h10.6v10.6h-10.6zM505.3 30.9h10.6v10.6h-10.6zM506.9 29.6h10.6v10.6h-10.6zM508.5 29.5h10.6v10.6h-10.6zM510.2 26.4h10.6v10.6h-10.6zM511.8 25.1h10.6v10.6h-10.6zM513.4 22.6h10.6v10.6h-10.6zM515.0 21.0h10.6v10.6h-10.6zM516.7 16.8h10.6v10.6h-10.6zM518.3 15.1h10.6v10.6h-10.6zM519.9 13.2h10.6v10.6h-10.6zM521.5 9.8h10.6v10.6h-10.6zM523.2 5.1h10.6v10.6h-10.6zM524.8 2.6h10.6v10.6h-10.6zM526.4 1.4h10.6v10.6h-10.6zM528.0 1.1h10.6v10.6h-10.6z"/></g><g stroke="#ece440" fill="none" stroke-width="1.2"><path d="M122.2 381.2L123.8 381.2L125.5 381.2L127.1 381.2L128.7 381.2L130.3 381.2L131.9 381.2L133.6 381.2L135.2 355.9L136.8 355.9L138.4 355.9L140.1 355.9L141.7 355.9L143.3 355.9L144.9 341.1L146.6 341.1L148.2 341.1L149.8 330.6L151.4 330.6L153.1 322.5L154.7 322.5L156.3 315.8L157.9 315.8L159.6 310.2L161.2 305.3L162.8 301.0L164.4 282.5L166.1 262.4L167.7 255.6L169.3 245.4L170.9 236.3L172.6 226.4L174.2 224.0L175.8 218.3L177.4 215.2L179.1 212.8L180.7 208.8L182.3 208.6L183.9 207.9L185.6 205.8L187.2 205.2L188.8 205.2L190.4 202.4L192.1 201.7L193.7 201.1L195.3 198.8L196.9 198.0L198.6 197.7L200.2 196.8L201.8 196.2L203.4 194.4L205.1 194.2L206.7 191.5L208.3 191.4L209.9 191.4L211.6 189.0L213.2 188.9L214.8 188.1L216.4 187.0L218.1 186.8L219.7 186.7L221.3 185.7L222.9 182.7L224.6 182.3L226.2 179.7L227.8 177.3L229.4 175.3L231.1 174.7L232.7 172.4L234.3 167.8L235.9 165.8L237.6 164.8L239.2 164.2L240.8 162.0L242.4 160.4L244.1 159.5L245.7 158.8L247.3 158.8L248.9 158.1L250.6 156.8L252.2 156.4L253.8 156.3L255.4 154.3L257.1 151.8L258.7 151.1L260.3 151.1L261.9 149.5L263.6 148.6L265.2 147.7L266.8 147.0L268.4 146.3L270.1 145.8L271.7 144.9L273.3 143.1L274.9 142.7L276.6 142.2L278.2 140.0L279.8 139.0L281.4 138.2L283.1 137.7L284.7 136.1L286.3 135.4L287.9 135.1L289.6 131.1L291.2 130.3L292.8 130.1L294.4 130.0L296.1 127.6L297.7 127.4L299.3 126.9L300.9 125.0L302.6 124.7L304.2 122.7L305.8 122.0L307.4 120.4L309.1 119.5L310.7 118.2L312.3 117.9L313.9 116.4L315.6 114.7L317.2 114.0L318.8 113.6L320.4 113.1L322.1 109.1L323.7 108.0L325.3 106.2L326.9 106.0L328.6 101.6L330.2 100.9L331.8 95.8L333.4 93.9L335.1 93.3L336.7 92.1L338.3 91.9L339.9 88.5L341.6 87.4L343.2 87.1L344.8 85.5L346.4 81.5L348.1 81.3L349.7 79.7L351.3 76.8L352.9 74.3L354.6 71.8L356.2 68.7L357.8 68.1L359.4 65.1L361.1 62.9L362.7 58.3L364.3 56.7L365.9 50.3L367.6 47.8L369.2 45.9L370.8 44.7L372.4 41.9L374.1 41.9L375.7 35.5L377.3 34.6L378.9 28.4L380.6 23.4L382.2 19.9L383.8 13.6L385.4 13.3L387.1 11.4L388.7 10.2L390.3 9.9L391.9 9.8L393.6 6.3L395.2 5.4L396.8 4.2"/><path d="M117.2 381.2a5.0 5.0 0 1 0 10.0 0a5.0 5.0 0 1 0 -10.0 0zM118.8 381.2a5.0 5.0 0 1 0 10.0 0a5.0 5.0 0 1 0 -10.0 0zM120.5 381.2a5.0 5.0 0 1 0 10.0 0a5.0 5.0 0 1 0 -10.0 0zM122.1 381.2a5.0 5.0 0 1 0 10.0 0a5.0 5.0 0 1 0 -10.0 0zM123.7 381.2a5.0 5.0 0 1 0 10.0 0a5.0 5.0 0 1 0 -10.0 0zM125.3 381.2a5.0 5.0 0 1 0 10.0 0a5.0 5.0 0 1 0 -10.0 0zM126.9 381.2a5.0 5.0 0 1 0 10.0 0a5.0 5.0 0 1 0 -10.0 0zM128.6 381.2a5.0 5.0 0 1 0 10.0 0a5.0 5.0 0 1 0 -10.0 0zM130.2 355.9a5.0 5.0 0 1 0 10.0 0a5.0 5.0 0 1 0 -10.0 0zM131.8 355.9a5.0 5.0 0 1 0 10.0 0a5.0 5.0 0 1 0 -10.0 0zM133.4 355.9a5.0 5.0 0 1 0 10.0 0a5.0 5.0 0 1 0 -10.0 0zM135.1 355.9a5.0 5.0 0 1 0 10.0 0a5.0 5.0 0 1 0 -10.0 0zM136.7 355.9a5.0 5.0 0 1 0 10.0 0a5.0 5.0 0 1 0 -10.0 0zM138.3 355.9a5.0 5.0 0 1 0 10.0 0a5.0 5.0 0 1 0 -10.0 0zM139.9 341.1a5.0 5.0 0 1 0 10.0 0a5.0 5.0 0 1 0 -10.0 0zM141.6 341.1a5.0 5.0 0 1 0 10.0 0a5.0 5.0 0 1 0 -10.0 0zM143.2 341.1a5.0 5.0 0 1 0 10.0 0a5.0 5.0 0 1 0 -10.0 0zM144.8 330.6a5.0 5.0 0 1 0 10.0 0a5.0 5.0 0 1 0 -10.0 0zM146.4 330.6a5.0 5.0 0 1 0 10.0 0a5.0 5.0 0 1 0 -10.0 0zM148.1 322.5a5.0 5.0 0 1 0 10.0 0a5.0 5.0 0 1 0 -10.0 0zM149.7 322.5a5.0 5.0 0 1 0 10.0 0a5.0 5.0 0 1 0 -10.0 0zM151.3 315.8a5.0 5.0 0 1 0 10.0 0a5.0 5.0 0 1 0 -10.0 0zM152.9 315.8a5.0 5.0 0 1 0 10.0 0a5.0 5.0 0 1 0 -10.0 0zM154.6 310.2a5.0 5.0 0 1 0 10.0 0a5.0 5.0 0 1 0 -10.0 0zM156.2 305.3a5.0 5.0 0 1 0 10.0 0a5.0 5.0 0 1 0 -10.0 0zM157.8 301.0a5.0 5.0 0 1 0 10.0 0a5.0 5.0 0 1 0 -10.0 0zM159.4 282.5a5.0 5.0 0 1 0 10.0 0a5.0 5.0 0 1 0 -10.0 0zM161.1 262.4a5.0 5.0 0 1 0 10.0 0a5.0 5.0 0 1 0 -10.0 0zM162.7 255.6a5.0 5.0 0 1 0 10.0 0a5.0 5.0 0 1 0 -10.0 0zM164.3 245.4a5.0 5.0 0 1 0 10.0 0a5.0 5.0 0 1 0 -10.0 0zM165.9 236.3a5.0 5.0 0 1 0 10.0 0a5.0 5.0 0 1 0 -10.0 0zM167.6 226.4a5.0 5.0 0 1 0 10.0 0a5.0 5.0 0 1 0 -10.0 0zM169.2 224.0a5.0 5.0 0 1 0 10.0 0a5.0 5.0 0 1 0 -10.0 0zM170.8 218.3a5.0 5.0 0 1 0 10.0 0a5.0 5.0 0 1 0 -10.0 0zM172.4 215.2a5.0 5.0 0 1 0 10.0 0a5.0 5.0 0 1 0 -10.0 0zM174.1 212.8a5.0 5.0 0 1 0 10.0 0a5.0 5.0 0 1 0 -10.0 0zM175.7 208.8a5.0 5.0 0 1 0 10.0 0a5.0 5.0 0 1 0 -10.0 0zM177.3 208.6a5.0 5.0 0 1 0 10.0 0a5.0 5.0 0 1 0 -10.0 0zM178.9 207.9a5.0 5.0 0 1 0 10.0 0a5.0 5.0 0 1 0 -10.0 0zM180.6 205.8a5.0 5.0 0 1 0 10.0 0a5.0 5.0 0 1 0 -10.0 0zM182.2 205.2a5.0 5.0 0 1 0 10.0 0a5.0 5.0 0 1 0 -10.0 0zM183.8 205.2a5.0 5.0 0 1 0 10.0 0a5.0 5.0 0 1 0 -10.0 0zM185.4 202.4a5.0 5.0 0 1 0 10.0 0a5.0 5.0 0 1 0 -10.0 0zM187.1 201.7a5.0 5.0 0 1 0 10.0 0a5.0 5.0 0 1 0 -10.0 0zM188.7 201.1a5.0 5.0 0 1 0 10.0 0a5.0 5.0 0 1 0 -10.0 0zM190.3 198.8a5.0 5.0 0 1 0 10.0 0a5.0 5.0 0 1 0 -10.0 0zM191.9 198.0a5.0 5.0 0 1 0 10.0 0a5.0 5.0 0 1 0 -10.0 0zM193.6 197.7a5.0 5.0 0 1 0 10.0 0a5.0 5.0 0 1 0 -10.0 0zM195.2 196.8a5.0 5.0 0 1 0 10.0 0a5.0 5.0 0 1 0 -10.0 0zM196.8 196.2a5.0 5.0 0 1 0 10.0 0a5.0 5.0 0 1 0 -10.0 0zM198.4 194.4a5.0 5.0 0 1 0 10.0 0a5.0 5.0 0 1 0 -10.0 0zM200.1 194.2a5.0 5.0 0 1 0 10.0 0a5.0 5.0 0 1 0 -10.0 0zM201.7 191.5a5.0 5.0 0 1 0 10.0 0a5.0 5.0 0 1 0 -10.0 0zM203.3 191.4a5.0 5.0 0 1 0 10.0 0a5.0 5.0 0 1 0 -10.0 0zM204.9 191.4a5.0 5.0 0 1 0 10.0 0a5.0 5.0 0 1 0 -10.0 0zM206.6 189.0a5.0 5.0 0 1 0 10.0 0a5.0 5.0 0 1 0 -10.0 0zM208.2 188.9a5.0 5.0 0 1 0 10.0 0a5.0 5.0 0 1 0 -10.0 0zM209.8 188.1a5.0 5.0 0 1 0 10.0 0a5.0 5.0 0 1 0 -10.0 0zM211.4 187.0a5.0 5.0 0 1 0 10.0 0a5.0 5.0 0 1 0 -10.0 0zM213.1 186.8a5.0 5.0 0 1 0 10.0 0a5.0 5.0 0 1 0 -10.0 0zM214.7 186.7a5.0 5.0 0 1 0 10.0 0a5.0 5.0 0 1 0 -10.0 0zM216.3 185.7a5.0 5.0 0 1 0 10.0 0a5.0 5.0 0 1 0 -10.0 0zM217.9 182.7a5.0 5.0 0 1 0 10.0 0a5.0 5.0 0 1 0 -10.0 0zM219.6 182.3a5.0 5.0 0 1 0 10.0 0a5.0 5.0 0 1 0 -10.0 0zM221.2 179.7a5.0 5.0 0 1 0 10.0 0a5.0 5.0 0 1 0 -10.0 0zM222.8 177.3a5.0 5.0 0 1 0 10.0 0a5.0 5.0 0 1 0 -10.0 0zM224.4 175.3a5.0 5.0 0 1 0 10.0 0a5.0 5.0 0 1 0 -10.0 0zM226.1 174.7a5.0 5.0 0 1 0 10.0 0a5.0 5.0 0 1 0 -10.0 0zM227.7 172.4a5.0 5.0 0 1 0 10.0 0a5.0 5.0 0 1 0 -10.0 0zM229.3 167.8a5.0 5.0 0 1 0 10.0 0a5.0 5.0 0 1 0 -10.0 0zM230.9 165.8a5.0 5.0 0 1 0 10.0 0a5.0 5.0 0 1 0 -10.0 0zM232.6 164.8a5.0 5.0 0 1 0 10.0 0a5.0 5.0 0 1 0 -10.0 0zM234.2 164.2a5.0 5.0 0 1 0 10.0 0a5.0 5.0 0 1 0 -10.0 0zM235.8 162.0a5.0 5.0 0 1 0 10.0 0a5.0 5.0 0 1 0 -10.0 0zM237.4 160.4a5.0 5.0 0 1 0 10.0 0a5.0 5.0 0 1 0 -10.0 0zM239.1 159.5a5.0 5.0 0 1 0 10.0 0a5.0 5.0 0 1 0 -10.0 0zM240.7 158.8a5.0 5.0 0 1 0 10.0 0a5.0 5.0 0 1 0 -10.0 0zM242.3 158.8a5.0 5.0 0 1 0 10.0 0a5.0 5.0 0 1 0 -10.0 0zM243.9 158.1a5.0 5.0 0 1 0 10.0 0a5.0 5.0 0 1 0 -10.0 0zM245.6 156.8a5.0 5.0 0 1 0 10.0 0a5.0 5.0 0 1 0 -10.0 0zM247.2 156.4a5.0 5.0 0 1 0 10.0 0a5.0 5.0 0 1 0 -10.0 0zM248.8 156.3a5.0 5.0 0 1 0 10.0 0a5.0 5.0 0 1 0 -10.0 0zM250.4 154.3a5.0 5.0 0 1 0 10.0 0a5.0 5.0 0 1 0 -10.0 0zM252.1 151.8a5.0 5.0 0 1 0 10.0 0a5.0 5.0 0 1 0 -10.0 0zM253.7 151.1a5.0 5.0 0 1 0 10.0 0a5.0 5.0 0 1 0 -10.0 0zM255.3 151.1a5.0 5.0 0 1 0 10.0 0a5.0 5.0 0 1 0 -10.0 0zM256.9 149.5a5.0 5.0 0 1 0 10.0 0a5.0 5.0 0 1 0 -10.0 0zM258.6 148.6a5.0 5.0 0 1 0 10.0 0a5.0 5.0 0 1 0 -10.0 0zM260.2 147.7a5.0 5.0 0 1 0 10.0 0a5.0 5.0 0 1 0 -10.0 0zM261.8 147.0a5.0 5.0 0 1 0 10.0 0a5.0 5.0 0 1 0 -10.0 0zM263.4 146.3a5.0 5.0 0 1 0 10.0 0a5.0 5.0 0 1 0 -10.0 0zM265.1 145.8a5.0 5.0 0 1 0 10.0 0a5.0 5.0 0 1 0 -10.0 0zM266.7 144.9a5.0 5.0 0 1 0 10.0 0a5.0 5.0 0 1 0 -10.0 0zM268.3 143.1a5.0 5.0 0 1 0 10.0 0a5.0 5.0 0 1 0 -10.0 0zM269.9 142.7a5.0 5.0 0 1 0 10.0 0a5.0 5.0 0 1 0 -10.0 0zM271.6 142.2a5.0 5.0 0 1 0 10.0 0a5.0 5.0 0 1 0 -10.0 0zM273.2 140.0a5.0 5.0 0 1 0 10.0 0a5.0 5.0 0 1 0 -10.0 0zM274.8 139.0a5.0 5.0 0 1 0 10.0 0a5.0 5.0 0 1 0 -10.0 0zM276.4 138.2a5.0 5.0 0 1 0 10.0 0a5.0 5.0 0 1 0 -10.0 0zM278.1 137.7a5.0 5.0 0 1 0 10.0 0a5.0 5.0 0 1 0 -10.0 0zM279.7 136.1a5.0 5.0 0 1 0 10.0 0a5.0 5.0 0 1 0 -10.0 0zM281.3 135.4a5.0 5.0 0 1 0 10.0 0a5.0 5.0 0 1 0 -10.0 0zM282.9 135.1a5.0 5.0 0 1 0 10.0 0a5.0 5.0 0 1 0 -10.0 0zM284.6 131.1a5.0 5.0 0 1 0 10.0 0a5.0 5.0 0 1 0 -10.0 0zM286.2 130.3a5.0 5.0 0 1 0 10.0 0a5.0 5.0 0 1 0 -10.0 0zM287.8 130.1a5.0 5.0 0 1 0 10.0 0a5.0 5.0 0 1 0 -10.0 0zM289.4 130.0a5.0 5.0 0 1 0 10.0 0a5.0 5.0 0 1 0 -10.0 0zM291.1 127.6a5.0 5.0 0 1 0 10.0 0a5.0 5.0 0 1 0 -10.0 0zM292.7 127.4a5.0 5.0 0 1 0 10.0 0a5.0 5.0 0 1 0 -10.0 0zM294.3 126.9a5.0 5.0 0 1 0 10.0 0a5.0 5.0 0 1 0 -10.0 0zM295.9 125.0a5.0 5.0 0 1 0 10.0 0a5.0 5.0 0 1 0 -10.0 0zM297.6 124.7a5.0 5.0 0 1 0 10.0 0a5.0 5.0 0 1 0 -10.0 0zM299.2 122.7a5.0 5.0 0 1 0 10.0 0a5.0 5.0 0 1 0 -10.0 0zM300.8 122.0a5.0 5.0 0 1 0 10.0 0a5.0 5.0 0 1 0 -10.0 0zM302.4 120.4a5.0 5.0 0 1 0 10.0 0a5.0 5.0 0 1 0 -10.0 0zM304.1 119.5a5.0 5.0 0 1 0 10.0 0a5.0 5.0 0 1 0 -10.0 0zM305.7 118.2a5.0 5.0 0 1 0 10.0 0a5.0 5.0 0 1 0 -10.0 0zM307.3 117.9a5.0 5.0 0 1 0 10.0 0a5.0 5.0 0 1 0 -10.0 0zM308.9 116.4a5.0 5.0 0 1 0 10.0 0a5.0 5.0 0 1 0 -10.0 0zM310.6 114.7a5.0 5.0 0 1 0 10.0 0a5.0 5.0 0 1 0 -10.0 0zM312.2 114.0a5.0 5.0 0 1 0 10.0 0a5.0 5.0 0 1 0 -10.0 0zM313.8 113.6a5.0 5.0 0 1 0 10.0 0a5.0 5.0 0 1 0 -10.0 0zM315.4 113.1a5.0 5.0 0 1 0 10.0 0a5.0 5.0 0 1 0 -10.0 0zM317.1 109.1a5.0 5.0 0 1 0 10.0 0a5.0 5.0 0 1 0 -10.0 0zM318.7 108.0a5.0 5.0 0 1 0 10.0 0a5.0 5.0 0 1 0 -10.0 0zM320.3 106.2a5.0 5.0 0 1 0 10.0 0a5.0 5.0 0 1 0 -10.0 0zM321.9 106.0a5.0 5.0 0 1 0 10.0 0a5.0 5.0 0 1 0 -10.0 0zM323.6 101.6a5.0 5.0 0 1 0 10.0 0a5.0 5.0 0 1 0 -10.0 0zM325.2 100.9a5.0 5.0 0 1 0 10.0 0a5.0 5.0 0 1 0 -10.0 0zM326.8 95.8a5.0 5.0 0 1 0 10.0 0a5.0 5.0 0 1 0 -10.0 0zM328.4 93.9a5.0 5.0 0 1 0 10.0 0a5.0 5.0 0 1 0 -10.0 0zM330.1 93.3a5.0 5.0 0 1 0 10.0 0a5.0 5.0 0 1 0 -10.0 0zM331.7 92.1a5.0 5.0 0 1 0 10.0 0a5.0 5.0 0 1 0 -10.0 0zM333.3 91.9a5.0 5.0 0 1 0 10.0 0a5.0 5.0 0 1 0 -10.0 0zM334.9 88.5a5.0 5.0 0 1 0 10.0 0a5.0 5.0 0 1 0 -10.0 0zM336.6 87.4a5.0 5.0 0 1 0 10.0 0a5.0 5.0 0 1 0 -10.0 0zM338.2 87.1a5.0 5.0 0 1 0 10.0 0a5.0 5.0 0 1 0 -10.0 0zM339.8 85.5a5.0 5.0 0 1 0 10.0 0a5.0 5.0 0 1 0 -10.0 0zM341.4 81.5a5.0 5.0 0 1 0 10.0 0a5.0 5.0 0 1 0 -10.0 0zM343.1 81.3a5.0 5.0 0 1 0 10.0 0a5.0 5.0 0 1 0 -10.0 0zM344.7 79.7a5.0 5.0 0 1 0 10.0 0a5.0 5.0 0 1 0 -10.0 0zM346.3 76.8a5.0 5.0 0 1 0 10.0 0a5.0 5.0 0 1 0 -10.0 0zM347.9 74.3a5.0 5.0 0 1 0 10.0 0a5.0 5.0 0 1 0 -10.0 0zM349.6 71.8a5.0 5.0 0 1 0 10.0 0a5.0 5.0 0 1 0 -10.0 0zM351.2 68.7a5.0 5.0 0 1 0 10.0 0a5.0 5.0 0 1 0 -10.0 0zM352.8 68.1a5.0 5.0 0 1 0 10.0 0a5.0 5.0 0 1 0 -10.0 0zM354.4 65.1a5.0 5.0 0 1 0 10.0 0a5.0 5.0 0 1 0 -10.0 0zM356.1 62.9a5.0 5.0 0 1 0 10.0 0a5.0 5.0 0 1 0 -10.0 0zM357.7 58.3a5.0 5.0 0 1 0 10.0 0a5.0 5.0 0 1 0 -10.0 0zM359.3 56.7a5.0 5.0 0 1 0 10.0 0a5.0 5.0 0 1 0 -10.0 0zM360.9 50.3a5.0 5.0 0 1 0 10.0 0a5.0 5.0 0 1 0 -10.0 0zM362.6 47.8a5.0 5.0 0 1 0 10.0 0a5.0 5.0 0 1 0 -10.0 0zM364.2 45.9a5.0 5.0 0 1 0 10.0 0a5.0 5.0 0 1 0 -10.0 0zM365.8 44.7a5.0 5.0 0 1 0 10.0 0a5.0 5.0 0 1 0 -10.0 0zM367.4 41.9a5.0 5.0 0 1 0 10.0 0a5.0 5.0 0 1 0 -10.0 0zM369.1 41.9a5.0 5.0 0 1 0 10.0 0a5.0 5.0 0 1 0 -10.0 0zM370.7 35.5a5.0 5.0 0 1 0 10.0 0a5.0 5.0 0 1 0 -10.0 0zM372.3 34.6a5.0 5.0 0 1 0 10.0 0a5.0 5.0 0 1 0 -10.0 0zM373.9 28.4a5.0 5.0 0 1 0 10.0 0a5.0 5.0 0 1 0 -10.0 0zM375.6 23.4a5.0 5.0 0 1 0 10.0 0a5.0 5.0 0 1 0 -10.0 0zM377.2 19.9a5.0 5.0 0 1 0 10.0 0a5.0 5.0 0 1 0 -10.0 0zM378.8 13.6a5.0 5.0 0 1 0 10.0 0a5.0 5.0 0 1 0 -10.0 0zM380.4 13.3a5.0 5.0 0 1 0 10.0 0a5.0 5.0 0 1 0 -10.0 0zM382.1 11.4a5.0 5.0 0 1 0 10.0 0a5.0 5.0 0 1 0 -10.0 0zM383.7 10.2a5.0 5.0 0 1 0 10.0 0a5.0 5.0 0 1 0 -10.0 0zM385.3 9.9a5.0 5.0 0 1 0 10.0 0a5.0 5.0 0 1 0 -10.0 0zM386.9 9.8a5.0 5.0 0 1 0 10.0 0a5.0 5.0 0 1 0 -10.0 0zM388.6 6.3a5.0 5.0 0 1 0 10.0 0a5.0 5.0 0 1 0 -10.0 0zM390.2 5.4a5.0 5.0 0 1 0 10.0 0a5.0 5.0 0 1 0 -10.0 0zM391.8 4.2a5.0 5.0 0 1 0 10.0 0a5.0 5.0 0 1 0 -10.0 0z"/></g><g stroke="#1f6fb8" fill="none" stroke-width="1.2"><path d="M107.6 381.2L109.2 381.2L110.8 381.2L112.5 381.2L114.1 381.2L115.7 381.2L117.3 381.2L119.0 381.2L120.6 381.2L122.2 355.9L123.8 355.9L125.5 355.9L127.1 355.9L128.7 355.9L130.3 355.9L131.9 355.9L133.6 341.1L135.2 341.1L136.8 341.1L138.4 341.1L140.1 330.6L141.7 330.6L143.3 322.5L144.9 322.5L146.6 315.8L148.2 315.8L149.8 310.2L151.4 305.3L153.1 305.3L154.7 301.0L156.3 296.2L157.9 290.7L159.6 287.7L161.2 276.8L162.8 274.8L164.4 270.2L166.1 268.4L167.7 266.8L169.3 262.1L170.9 252.4L172.6 242.6L174.2 233.3L175.8 230.7L177.4 229.6L179.1 228.1L180.7 227.1L182.3 226.3L183.9 225.9L185.6 220.0L187.2 219.5L188.8 219.0L190.4 218.1L192.1 211.5L193.7 210.4L195.3 208.0L196.9 207.2L198.6 207.2L200.2 201.7L201.8 198.8L203.4 194.4L205.1 193.9L206.7 193.4L208.3 186.8L209.9 183.9L211.6 183.3L213.2 181.5L214.8 179.6L216.4 176.3L218.1 174.2L219.7 169.1L221.3 168.0L222.9 167.6L224.6 166.2L226.2 161.9L227.8 161.1L229.4 158.6L231.1 157.5L232.7 151.3L234.3 149.8L235.9 146.4L237.6 139.1L239.2 135.3L240.8 128.4L242.4 128.1L244.1 120.0L245.7 119.3L247.3 114.8L248.9 109.9L250.6 107.2L252.2 102.8L253.8 97.1L255.4 93.7L257.1 89.3L258.7 89.2L260.3 83.9L261.9 76.5L263.6 70.7L265.2 69.3L266.8 67.1L268.4 65.5L270.1 59.3L271.7 54.3L273.3 47.8L274.9 46.8L276.6 41.3L278.2 36.4L279.8 30.6L281.4 26.0L283.1 18.9L284.7 15.8L286.3 9.7L287.9 5.3"/><path d="M107.6 375.4L112.9 383.8H102.3zM109.2 375.4L114.5 383.8H103.9zM110.8 375.4L116.1 383.8H105.5zM112.5 375.4L117.8 383.8H107.2zM114.1 375.4L119.4 383.8H108.8zM115.7 375.4L121.0 383.8H110.4zM117.3 375.4L122.6 383.8H112.0zM119.0 375.4L124.2 383.8H113.7zM120.6 375.4L125.9 383.8H115.3zM122.2 350.1L127.5 358.5H116.9zM123.8 350.1L129.1 358.5H118.5zM125.5 350.1L130.8 358.5H120.2zM127.1 350.1L132.4 358.5H121.8zM128.7 350.1L134.0 358.5H123.4zM130.3 350.1L135.6 358.5H125.0zM131.9 350.1L137.2 358.5H126.6zM133.6 335.3L138.9 343.7H128.3zM135.2 335.3L140.5 343.7H129.9zM136.8 335.3L142.1 343.7H131.5zM138.4 335.3L143.8 343.7H133.1zM140.1 324.8L145.4 333.2H134.8zM141.7 324.8L147.0 333.2H136.4zM143.3 316.7L148.6 325.1H138.0zM144.9 316.7L150.2 325.1H139.6zM146.6 310.0L151.9 318.4H141.3zM148.2 310.0L153.5 318.4H142.9zM149.8 304.4L155.1 312.8H144.5zM151.4 299.5L156.8 307.9H146.1zM153.1 299.5L158.4 307.9H147.8zM154.7 295.2L160.0 303.6H149.4zM156.3 290.4L161.6 298.8H151.0zM157.9 284.9L163.2 293.3H152.6zM159.6 281.9L164.9 290.3H154.3zM161.2 271.0L166.5 279.4H155.9zM162.8 269.0L168.1 277.4H157.5zM164.4 264.4L169.8 272.8H159.1zM166.1 262.6L171.4 271.0H160.8zM167.7 261.0L173.0 269.4H162.4zM169.3 256.3L174.6 264.7H164.0zM170.9 246.6L176.2 255.0H165.6zM172.6 236.8L177.9 245.2H167.3zM174.2 227.5L179.5 235.9H168.9zM175.8 224.9L181.1 233.3H170.5zM177.4 223.8L182.8 232.2H172.1zM179.1 222.3L184.4 230.7H173.8zM180.7 221.3L186.0 229.7H175.4zM182.3 220.5L187.6 228.9H177.0zM183.9 220.1L189.2 228.5H178.6zM185.6 214.2L190.9 222.6H180.3zM187.2 213.7L192.5 222.1H181.9zM188.8 213.2L194.1 221.6H183.5zM190.4 212.3L195.8 220.7H185.1zM192.1 205.7L197.4 214.1H186.8zM193.7 204.6L199.0 213.0H188.4zM195.3 202.2L200.6 210.6H190.0zM196.9 201.4L202.2 209.8H191.6zM198.6 201.4L203.9 209.8H193.3zM200.2 195.9L205.5 204.3H194.9zM201.8 193.0L207.1 201.4H196.5zM203.4 188.6L208.8 197.0H198.1zM205.1 188.1L210.4 196.5H199.8zM206.7 187.6L212.0 196.0H201.4zM208.3 181.0L213.6 189.4H203.0zM209.9 178.1L215.2 186.5H204.6zM211.6 177.5L216.9 185.9H206.3zM213.2 175.7L218.5 184.1H207.9zM214.8 173.8L220.1 182.2H209.5zM216.4 170.5L221.8 178.9H211.1zM218.1 168.4L223.4 176.8H212.8zM219.7 163.3L225.0 171.7H214.4zM221.3 162.2L226.6 170.6H216.0zM222.9 161.8L228.2 170.2H217.6zM224.6 160.4L229.9 168.8H219.3zM226.2 156.1L231.5 164.5H220.9zM227.8 155.3L233.1 163.7H222.5zM229.4 152.8L234.8 161.2H224.1zM231.1 151.7L236.4 160.1H225.8zM232.7 145.5L238.0 153.9H227.4zM234.3 144.0L239.6 152.4H229.0zM235.9 140.6L241.2 149.0H230.6zM237.6 133.3L242.9 141.7H232.3zM239.2 129.5L244.5 137.9H233.9zM240.8 122.6L246.1 131.0H235.5zM242.4 122.3L247.8 130.7H237.1zM244.1 114.2L249.4 122.6H238.8zM245.7 113.5L251.0 121.9H240.4zM247.3 109.0L252.6 117.4H242.0zM248.9 104.1L254.2 112.5H243.6zM250.6 101.4L255.9 109.8H245.3zM252.2 97.0L257.5 105.4H246.9zM253.8 91.3L259.1 99.7H248.5zM255.4 87.9L260.8 96.3H250.1zM257.1 83.5L262.4 91.9H251.8zM258.7 83.4L264.0 91.8H253.4zM260.3 78.1L265.6 86.5H255.0zM261.9 70.7L267.2 79.1H256.6zM263.6 64.9L268.9 73.3H258.3zM265.2 63.5L270.5 71.9H259.9zM266.8 61.3L272.1 69.7H261.5zM268.4 59.7L273.8 68.1H263.1zM270.1 53.5L275.4 61.9H264.8zM271.7 48.5L277.0 56.9H266.4zM273.3 42.0L278.6 50.4H268.0zM274.9 41.0L280.2 49.4H269.6zM276.6 35.5L281.9 43.9H271.3zM278.2 30.6L283.5 39.0H272.9zM279.8 24.8L285.1 33.2H274.5zM281.4 20.2L286.8 28.6H276.1zM283.1 13.1L288.4 21.5H277.8zM284.7 10.0L290.0 18.4H279.4zM286.3 3.9L291.6 12.3H281.0zM287.9 -0.5L293.2 7.9H282.6z"/></g><g stroke="#e3241f" fill="none" stroke-width="1.2"><path d="M135.2 381.2L136.8 381.2L138.4 381.2L140.1 381.2L141.7 381.2L143.3 381.2L144.9 381.2L146.6 381.2L148.2 381.2L149.8 381.2L151.4 355.9L153.1 355.9L154.7 355.9L156.3 355.9L157.9 355.9L159.6 355.9L161.2 355.9L162.8 341.1L164.4 341.1L166.1 341.1L167.7 330.6L169.3 330.6L170.9 305.3L172.6 301.0L174.2 301.0L175.8 301.0L177.4 297.2L179.1 296.6L180.7 293.9L182.3 292.1L183.9 289.3L185.6 285.3L187.2 285.1L188.8 280.6L190.4 280.2L192.1 279.7L193.7 279.6L195.3 278.2L196.9 277.9L198.6 277.7L200.2 275.5L201.8 274.1L203.4 273.6L205.1 273.1L206.7 272.9L208.3 272.8L209.9 272.1L211.6 271.0L213.2 270.7L214.8 270.5L216.4 268.5L218.1 267.9L219.7 267.0L221.3 266.8L222.9 264.7L224.6 264.4L226.2 263.9L227.8 263.6L229.4 262.2L231.1 261.7L232.7 260.5L234.3 259.9L235.9 256.6L237.6 255.7L239.2 255.3L240.8 255.1L242.4 253.9L244.1 253.5L245.7 253.0L247.3 252.6L248.9 251.1L250.6 250.8L252.2 250.4L253.8 250.0L255.4 249.5L257.1 248.6L258.7 248.0L260.3 247.6L261.9 247.4L263.6 247.0L265.2 245.9L266.8 245.6L268.4 245.6L270.1 245.4L271.7 245.1L273.3 244.6L274.9 243.2L276.6 243.1L278.2 242.2L279.8 241.9L281.4 240.0L283.1 238.1L284.7 237.8L286.3 235.2L287.9 235.0L289.6 233.7L291.2 233.7L292.8 232.9L294.4 232.8L296.1 231.7L297.7 230.9L299.3 230.6L300.9 229.4L302.6 228.6L304.2 228.3L305.8 228.1L307.4 227.9L309.1 226.4L310.7 226.4L312.3 225.2L313.9 224.9L315.6 223.7L317.2 222.8L318.8 222.4L320.4 221.5L322.1 220.7L323.7 220.4L325.3 218.7L326.9 217.8L328.6 216.6L330.2 216.3L331.8 215.8L333.4 214.8L335.1 214.4L336.7 213.8L338.3 213.7L339.9 213.7L341.6 213.3L343.2 210.3L344.8 209.9L346.4 209.5L348.1 209.3L349.7 207.2L351.3 207.0L352.9 206.3L354.6 206.1L356.2 205.9L357.8 204.0L359.4 201.7L361.1 201.7L362.7 200.8L364.3 200.0L365.9 199.8L367.6 199.3L369.2 199.0L370.8 197.3L372.4 197.1L374.1 195.6L375.7 195.4L377.3 195.0L378.9 194.8L380.6 194.3L382.2 194.2L383.8 193.0L385.4 193.0L387.1 191.8L388.7 190.6L390.3 190.4L391.9 190.4L393.6 188.6L395.2 187.5L396.8 186.9L398.4 186.7L400.1 185.6L401.7 185.3L403.3 185.1L404.9 184.1L406.6 183.3L408.2 182.1L409.8 181.5L411.4 181.5L413.1 179.5L414.7 179.3L416.3 179.2L417.9 178.0L419.6 177.4L421.2 177.2L422.8 177.1L424.4 176.0L426.1 174.5L427.7 174.0L429.3 173.9L430.9 173.6L432.6 172.6L434.2 171.8L435.8 170.7L437.4 170.5L439.1 169.8L440.7 169.7L442.3 169.3L443.9 169.1L445.6 169.1L447.2 168.7L448.8 168.6L450.4 167.2L452.1 167.0L453.7 166.6L455.3 165.3L456.9 165.2L458.6 164.8L460.2 163.6L461.8 163.4L463.4 162.0L465.1 161.9L466.7 160.9L468.3 160.1L469.9 159.8L471.6 159.4L473.2 158.6L474.8 157.7L476.4 155.8L478.1 155.8L479.7 155.8L481.3 152.1L482.9 151.5L484.6 151.3L486.2 151.2L487.8 151.1L489.4 150.4L491.1 149.6L492.7 148.1L494.3 147.3L495.9 147.1L497.6 146.6L499.2 146.3L500.8 146.3L502.4 143.3L504.1 143.0L505.7 142.4L507.3 142.4L508.9 142.0L510.6 141.9L512.2 141.5L513.8 140.0L515.5 139.4L517.1 138.0L518.7 138.0L520.3 137.8L522.0 137.6L523.6 137.4L525.2 136.9L526.8 136.4L528.5 134.5L530.1 134.1L531.7 132.0L533.3 131.8L535.0 129.8L536.6 129.5L538.2 128.9L539.8 127.8L541.5 127.7L543.1 127.2L544.7 126.9L546.3 124.4L548.0 124.0L549.6 122.9L551.2 122.8L552.8 119.6L554.5 118.9L556.1 118.3L557.7 116.1L559.3 114.7L561.0 113.6L562.6 113.5L564.2 113.0L565.8 112.3L567.5 108.5L569.1 108.2L570.7 107.9L572.3 107.2L574.0 106.9L575.6 105.4L577.2 105.3L578.8 105.1L580.5 105.0L582.1 104.9L583.7 103.4L585.3 103.0L587.0 103.0L588.6 102.7L590.2 100.3L591.8 100.1L593.5 99.0L595.1 97.2L596.7 96.0L598.3 93.8L600.0 93.0L601.6 90.5L603.2 90.4L604.8 89.1L606.5 88.9L608.1 86.1L609.7 83.4L611.3 82.6L613.0 81.8L614.6 81.7L616.2 79.4L617.8 78.9L619.5 74.2L621.1 73.7L622.7 72.7L624.3 69.4L626.0 69.3L627.6 68.7L629.2 68.3L630.8 66.7L632.5 64.6L634.1 63.2L635.7 62.0L637.3 59.5L639.0 58.7L640.6 57.3L642.2 57.0L643.8 53.7L645.5 52.9L647.1 50.7L648.7 49.6L650.3 48.6L652.0 48.0L653.6 46.5L655.2 45.5L656.8 42.8L658.5 42.5L660.1 29.1L661.7 26.5L663.3 20.1L665.0 15.2L666.6 11.0"/><path d="M135.2 387.2L140.5 378.4H129.9zM136.8 387.2L142.1 378.4H131.5zM138.4 387.2L143.8 378.4H133.1zM140.1 387.2L145.4 378.4H134.8zM141.7 387.2L147.0 378.4H136.4zM143.3 387.2L148.6 378.4H138.0zM144.9 387.2L150.2 378.4H139.6zM146.6 387.2L151.9 378.4H141.3zM148.2 387.2L153.5 378.4H142.9zM149.8 387.2L155.1 378.4H144.5zM151.4 361.9L156.8 353.1H146.1zM153.1 361.9L158.4 353.1H147.8zM154.7 361.9L160.0 353.1H149.4zM156.3 361.9L161.6 353.1H151.0zM157.9 361.9L163.2 353.1H152.6zM159.6 361.9L164.9 353.1H154.3zM161.2 361.9L166.5 353.1H155.9zM162.8 347.1L168.1 338.3H157.5zM164.4 347.1L169.8 338.3H159.1zM166.1 347.1L171.4 338.3H160.8zM167.7 336.6L173.0 327.8H162.4zM169.3 336.6L174.6 327.8H164.0zM170.9 311.3L176.2 302.5H165.6zM172.6 307.0L177.9 298.2H167.3zM174.2 307.0L179.5 298.2H168.9zM175.8 307.0L181.1 298.2H170.5zM177.4 303.2L182.8 294.4H172.1zM179.1 302.6L184.4 293.8H173.8zM180.7 299.9L186.0 291.1H175.4zM182.3 298.1L187.6 289.3H177.0zM183.9 295.3L189.2 286.5H178.6zM185.6 291.3L190.9 282.5H180.3zM187.2 291.1L192.5 282.3H181.9zM188.8 286.6L194.1 277.8H183.5zM190.4 286.2L195.8 277.4H185.1zM192.1 285.7L197.4 276.9H186.8zM193.7 285.6L199.0 276.8H188.4zM195.3 284.2L200.6 275.4H190.0zM196.9 283.9L202.2 275.1H191.6zM198.6 283.7L203.9 274.9H193.3zM200.2 281.5L205.5 272.7H194.9zM201.8 280.1L207.1 271.3H196.5zM203.4 279.6L208.8 270.8H198.1zM205.1 279.1L210.4 270.3H199.8zM206.7 278.9L212.0 270.1H201.4zM208.3 278.8L213.6 270.0H203.0zM209.9 278.1L215.2 269.3H204.6zM211.6 277.0L216.9 268.2H206.3zM213.2 276.7L218.5 267.9H207.9zM214.8 276.5L220.1 267.7H209.5zM216.4 274.5L221.8 265.7H211.1zM218.1 273.9L223.4 265.1H212.8zM219.7 273.0L225.0 264.2H214.4zM221.3 272.8L226.6 264.0H216.0zM222.9 270.7L228.2 261.9H217.6zM224.6 270.4L229.9 261.6H219.3zM226.2 269.9L231.5 261.1H220.9zM227.8 269.6L233.1 260.8H222.5zM229.4 268.2L234.8 259.4H224.1zM231.1 267.7L236.4 258.9H225.8zM232.7 266.5L238.0 257.7H227.4zM234.3 265.9L239.6 257.1H229.0zM235.9 262.6L241.2 253.8H230.6zM237.6 261.7L242.9 252.9H232.3zM239.2 261.3L244.5 252.5H233.9zM240.8 261.1L246.1 252.3H235.5zM242.4 259.9L247.8 251.1H237.1zM244.1 259.5L249.4 250.7H238.8zM245.7 259.0L251.0 250.2H240.4zM247.3 258.6L252.6 249.8H242.0zM248.9 257.1L254.2 248.3H243.6zM250.6 256.8L255.9 248.0H245.3zM252.2 256.4L257.5 247.6H246.9zM253.8 256.0L259.1 247.2H248.5zM255.4 255.5L260.8 246.7H250.1zM257.1 254.6L262.4 245.8H251.8zM258.7 254.0L264.0 245.2H253.4zM260.3 253.6L265.6 244.8H255.0zM261.9 253.4L267.2 244.6H256.6zM263.6 253.0L268.9 244.2H258.3zM265.2 251.9L270.5 243.1H259.9zM266.8 251.6L272.1 242.8H261.5zM268.4 251.6L273.8 242.8H263.1zM270.1 251.4L275.4 242.6H264.8zM271.7 251.1L277.0 242.3H266.4zM273.3 250.6L278.6 241.8H268.0zM274.9 249.2L280.2 240.4H269.6zM276.6 249.1L281.9 240.3H271.3zM278.2 248.2L283.5 239.4H272.9zM279.8 247.9L285.1 239.1H274.5zM281.4 246.0L286.8 237.2H276.1zM283.1 244.1L288.4 235.3H277.8zM284.7 243.8L290.0 235.0H279.4zM286.3 241.2L291.6 232.4H281.0zM287.9 241.0L293.2 232.2H282.6zM289.6 239.7L294.9 230.9H284.3zM291.2 239.7L296.5 230.9H285.9zM292.8 238.9L298.1 230.1H287.5zM294.4 238.8L299.8 230.0H289.1zM296.1 237.7L301.4 228.9H290.8zM297.7 236.9L303.0 228.1H292.4zM299.3 236.6L304.6 227.8H294.0zM300.9 235.4L306.2 226.6H295.6zM302.6 234.6L307.9 225.8H297.3zM304.2 234.3L309.5 225.5H298.9zM305.8 234.1L311.1 225.3H300.5zM307.4 233.9L312.8 225.1H302.1zM309.1 232.4L314.4 223.6H303.8zM310.7 232.4L316.0 223.6H305.4zM312.3 231.2L317.6 222.4H307.0zM313.9 230.9L319.2 222.1H308.6zM315.6 229.7L320.9 220.9H310.3zM317.2 228.8L322.5 220.0H311.9zM318.8 228.4L324.1 219.6H313.5zM320.4 227.5L325.8 218.7H315.1zM322.1 226.7L327.4 217.9H316.8zM323.7 226.4L329.0 217.6H318.4zM325.3 224.7L330.6 215.9H320.0zM326.9 223.8L332.2 215.0H321.6zM328.6 222.6L333.9 213.8H323.3zM330.2 222.3L335.5 213.5H324.9zM331.8 221.8L337.1 213.0H326.5zM333.4 220.8L338.8 212.0H328.1zM335.1 220.4L340.4 211.6H329.8zM336.7 219.8L342.0 211.0H331.4zM338.3 219.7L343.6 210.9H333.0zM339.9 219.7L345.2 210.9H334.6zM341.6 219.3L346.9 210.5H336.3zM343.2 216.3L348.5 207.5H337.9zM344.8 215.9L350.1 207.1H339.5zM346.4 215.5L351.8 206.7H341.1zM348.1 215.3L353.4 206.5H342.8zM349.7 213.2L355.0 204.4H344.4zM351.3 213.0L356.6 204.2H346.0zM352.9 212.3L358.2 203.5H347.6zM354.6 212.1L359.9 203.3H349.3zM356.2 211.9L361.5 203.1H350.9zM357.8 210.0L363.1 201.2H352.5zM359.4 207.7L364.8 198.9H354.1zM361.1 207.7L366.4 198.9H355.8zM362.7 206.8L368.0 198.0H357.4zM364.3 206.0L369.6 197.2H359.0zM365.9 205.8L371.2 197.0H360.6zM367.6 205.3L372.9 196.5H362.3zM369.2 205.0L374.5 196.2H363.9zM370.8 203.3L376.1 194.5H365.5zM372.4 203.1L377.8 194.3H367.1zM374.1 201.6L379.4 192.8H368.8zM375.7 201.4L381.0 192.6H370.4zM377.3 201.0L382.6 192.2H372.0zM378.9 200.8L384.2 192.0H373.6zM380.6 200.3L385.9 191.5H375.3zM382.2 200.2L387.5 191.4H376.9zM383.8 199.0L389.1 190.2H378.5zM385.4 199.0L390.8 190.2H380.1zM387.1 197.8L392.4 189.0H381.8zM388.7 196.6L394.0 187.8H383.4zM390.3 196.4L395.6 187.6H385.0zM391.9 196.4L397.2 187.6H386.6zM393.6 194.6L398.9 185.8H388.3zM395.2 193.5L400.5 184.7H389.9zM396.8 192.9L402.1 184.1H391.5zM398.4 192.7L403.8 183.9H393.1zM400.1 191.6L405.4 182.8H394.8zM401.7 191.3L407.0 182.5H396.4zM403.3 191.1L408.6 182.3H398.0zM404.9 190.1L410.2 181.3H399.6zM406.6 189.3L411.9 180.5H401.3zM408.2 188.1L413.5 179.3H402.9zM409.8 187.5L415.1 178.7H404.5zM411.4 187.5L416.8 178.7H406.1zM413.1 185.5L418.4 176.7H407.8zM414.7 185.3L420.0 176.5H409.4zM416.3 185.2L421.6 176.4H411.0zM417.9 184.0L423.2 175.2H412.6zM419.6 183.4L424.9 174.6H414.3zM421.2 183.2L426.5 174.4H415.9zM422.8 183.1L428.1 174.3H417.5zM424.4 182.0L429.8 173.2H419.1zM426.1 180.5L431.4 171.7H420.8zM427.7 180.0L433.0 171.2H422.4zM429.3 179.9L434.6 171.1H424.0zM430.9 179.6L436.2 170.8H425.6zM432.6 178.6L437.9 169.8H427.3zM434.2 177.8L439.5 169.0H428.9zM435.8 176.7L441.1 167.9H430.5zM437.4 176.5L442.8 167.7H432.1zM439.1 175.8L444.4 167.0H433.8zM440.7 175.7L446.0 166.9H435.4zM442.3 175.3L447.6 166.5H437.0zM443.9 175.1L449.2 166.3H438.6zM445.6 175.1L450.9 166.3H440.3zM447.2 174.7L452.5 165.9H441.9zM448.8 174.6L454.1 165.8H443.5zM450.4 173.2L455.8 164.4H445.1zM452.1 173.0L457.4 164.2H446.8zM453.7 172.6L459.0 163.8H448.4zM455.3 171.3L460.6 162.5H450.0zM456.9 171.2L462.2 162.4H451.6zM458.6 170.8L463.9 162.0H453.3zM460.2 169.6L465.5 160.8H454.9zM461.8 169.4L467.1 160.6H456.5zM463.4 168.0L468.8 159.2H458.1zM465.1 167.9L470.4 159.1H459.8zM466.7 166.9L472.0 158.1H461.4zM468.3 166.1L473.6 157.3H463.0zM469.9 165.8L475.2 157.0H464.6zM471.6 165.4L476.9 156.6H466.3zM473.2 164.6L478.5 155.8H467.9zM474.8 163.7L480.1 154.9H469.5zM476.4 161.8L481.8 153.0H471.1zM478.1 161.8L483.4 153.0H472.8zM479.7 161.8L485.0 153.0H474.4zM481.3 158.1L486.6 149.3H476.0zM482.9 157.5L488.2 148.7H477.6zM484.6 157.3L489.9 148.5H479.3zM486.2 157.2L491.5 148.4H480.9zM487.8 157.1L493.1 148.3H482.5zM489.4 156.4L494.8 147.6H484.1zM491.1 155.6L496.4 146.8H485.8zM492.7 154.1L498.0 145.3H487.4zM494.3 153.3L499.6 144.5H489.0zM495.9 153.1L501.2 144.3H490.6zM497.6 152.6L502.9 143.8H492.3zM499.2 152.3L504.5 143.5H493.9zM500.8 152.3L506.1 143.5H495.5zM502.4 149.3L507.8 140.5H497.1zM504.1 149.0L509.4 140.2H498.8zM505.7 148.4L511.0 139.6H500.4zM507.3 148.4L512.6 139.6H502.0zM508.9 148.0L514.2 139.2H503.6zM510.6 147.9L515.9 139.1H505.3zM512.2 147.5L517.5 138.7H506.9zM513.8 146.0L519.1 137.2H508.5zM515.5 145.4L520.8 136.6H510.2zM517.1 144.0L522.4 135.2H511.8zM518.7 144.0L524.0 135.2H513.4zM520.3 143.8L525.6 135.0H515.0zM522.0 143.6L527.2 134.8H516.7zM523.6 143.4L528.9 134.6H518.3zM525.2 142.9L530.5 134.1H519.9zM526.8 142.4L532.1 133.6H521.5zM528.5 140.5L533.8 131.7H523.2zM530.1 140.1L535.4 131.3H524.8zM531.7 138.0L537.0 129.2H526.4zM533.3 137.8L538.6 129.0H528.0zM535.0 135.8L540.2 127.0H529.7zM536.6 135.5L541.9 126.7H531.3zM538.2 134.9L543.5 126.1H532.9zM539.8 133.8L545.1 125.0H534.5zM541.5 133.7L546.8 124.9H536.2zM543.1 133.2L548.4 124.4H537.8zM544.7 132.9L550.0 124.1H539.4zM546.3 130.4L551.6 121.6H541.0zM548.0 130.0L553.2 121.2H542.7zM549.6 128.9L554.9 120.1H544.3zM551.2 128.8L556.5 120.0H545.9zM552.8 125.6L558.1 116.8H547.5zM554.5 124.9L559.8 116.1H549.2zM556.1 124.3L561.4 115.5H550.8zM557.7 122.1L563.0 113.3H552.4zM559.3 120.7L564.6 111.9H554.0zM561.0 119.6L566.2 110.8H555.7zM562.6 119.5L567.9 110.7H557.3zM564.2 119.0L569.5 110.2H558.9zM565.8 118.3L571.1 109.5H560.5zM567.5 114.5L572.8 105.7H562.2zM569.1 114.2L574.4 105.4H563.8zM570.7 113.9L576.0 105.1H565.4zM572.3 113.2L577.6 104.4H567.0zM574.0 112.9L579.2 104.1H568.7zM575.6 111.4L580.9 102.6H570.3zM577.2 111.3L582.5 102.5H571.9zM578.8 111.1L584.1 102.3H573.5zM580.5 111.0L585.8 102.2H575.2zM582.1 110.9L587.4 102.1H576.8zM583.7 109.4L589.0 100.6H578.4zM585.3 109.0L590.6 100.2H580.0zM587.0 109.0L592.2 100.2H581.7zM588.6 108.7L593.9 99.9H583.3zM590.2 106.3L595.5 97.5H584.9zM591.8 106.1L597.1 97.3H586.5zM593.5 105.0L598.8 96.2H588.2zM595.1 103.2L600.4 94.4H589.8zM596.7 102.0L602.0 93.2H591.4zM598.3 99.8L603.6 91.0H593.0zM600.0 99.0L605.2 90.2H594.7zM601.6 96.5L606.9 87.7H596.3zM603.2 96.4L608.5 87.6H597.9zM604.8 95.1L610.1 86.3H599.5zM606.5 94.9L611.8 86.1H601.2zM608.1 92.1L613.4 83.3H602.8zM609.7 89.4L615.0 80.6H604.4zM611.3 88.6L616.6 79.8H606.0zM613.0 87.8L618.2 79.0H607.7zM614.6 87.7L619.9 78.9H609.3zM616.2 85.4L621.5 76.6H610.9zM617.8 84.9L623.1 76.1H612.5zM619.5 80.2L624.8 71.4H614.2zM621.1 79.7L626.4 70.9H615.8zM622.7 78.7L628.0 69.9H617.4zM624.3 75.4L629.6 66.6H619.0zM626.0 75.3L631.2 66.5H620.7zM627.6 74.7L632.9 65.9H622.3zM629.2 74.3L634.5 65.5H623.9zM630.8 72.7L636.1 63.9H625.5zM632.5 70.6L637.8 61.8H627.2zM634.1 69.2L639.4 60.4H628.8zM635.7 68.0L641.0 59.2H630.4zM637.3 65.5L642.6 56.7H632.0zM639.0 64.7L644.2 55.9H633.7zM640.6 63.3L645.9 54.5H635.3zM642.2 63.0L647.5 54.2H636.9zM643.8 59.7L649.1 50.9H638.5zM645.5 58.9L650.8 50.1H640.2zM647.1 56.7L652.4 47.9H641.8zM648.7 55.6L654.0 46.8H643.4zM650.3 54.6L655.6 45.8H645.0zM652.0 54.0L657.2 45.2H646.7zM653.6 52.5L658.9 43.7H648.3zM655.2 51.5L660.5 42.7H649.9zM656.8 48.8L662.1 40.0H651.5zM658.5 48.5L663.8 39.7H653.2zM660.1 35.1L665.4 26.3H654.8zM661.7 32.5L667.0 23.7H656.4zM663.3 26.1L668.6 17.3H658.0zM665.0 21.2L670.2 12.4H659.7zM666.6 17.0L671.9 8.2H661.3z"/></g>
<g stroke="#222" stroke-width="1.5" fill="none"><rect x="83" y="5" width="600.5" height="376"/><path d="M164.4 381v-9M164.4 5v9M245.7 381v-9M245.7 5v9M326.9 381v-9M326.9 5v9M408.2 381v-9M408.2 5v9M489.4 381v-9M489.4 5v9M570.7 381v-9M570.7 5v9M652.0 381v-9M652.0 5v9M83 381.2h9M683.5 381.2h-9M83 355.9h5M683.5 355.9h-5M83 341.1h5M683.5 341.1h-5M83 330.6h5M683.5 330.6h-5M83 322.5h5M683.5 322.5h-5M83 315.8h5M683.5 315.8h-5M83 310.2h5M683.5 310.2h-5M83 305.3h5M683.5 305.3h-5M83 301.0h5M683.5 301.0h-5M83 297.2h9M683.5 297.2h-9M83 271.9h5M683.5 271.9h-5M83 257.1h5M683.5 257.1h-5M83 246.6h5M683.5 246.6h-5M83 238.5h5M683.5 238.5h-5M83 231.8h5M683.5 231.8h-5M83 226.2h5M683.5 226.2h-5M83 221.3h5M683.5 221.3h-5M83 217.0h5M683.5 217.0h-5M83 213.2h9M683.5 213.2h-9M83 187.9h5M683.5 187.9h-5M83 173.1h5M683.5 173.1h-5M83 162.6h5M683.5 162.6h-5M83 154.5h5M683.5 154.5h-5M83 147.8h5M683.5 147.8h-5M83 142.2h5M683.5 142.2h-5M83 137.3h5M683.5 137.3h-5M83 133.0h5M683.5 133.0h-5M83 129.2h9M683.5 129.2h-9M83 103.9h5M683.5 103.9h-5M83 89.1h5M683.5 89.1h-5M83 78.6h5M683.5 78.6h-5M83 70.5h5M683.5 70.5h-5M83 63.8h5M683.5 63.8h-5M83 58.2h5M683.5 58.2h-5M83 53.3h5M683.5 53.3h-5M83 49.0h5M683.5 49.0h-5M83 45.2h9M683.5 45.2h-9M83 19.9h5M683.5 19.9h-5M83 5.1h5M683.5 5.1h-5"/></g>
<g stroke="#1a9a6c" fill="none" stroke-width="1.2"><path d="M614 154.3H644" stroke-width="1"/><path d="M624.2 149.3L634.2 159.3M624.2 159.3L634.2 149.3"/></g><g stroke="#4aa8e0" fill="none" stroke-width="1.2"><path d="M614 187.6H644" stroke-width="1"/><path d="M624.2 182.6L634.2 192.6M624.2 192.6L634.2 182.6M629.2 182.3L629.2 192.9M623.9 187.6L634.5 187.6"/></g><g stroke="#e69f1c" fill="none" stroke-width="1.2"><path d="M614 221.2H644" stroke-width="1"/><path d="M623.9 215.9h10.6v10.6h-10.6z"/></g><g stroke="#ece440" fill="none" stroke-width="1.2"><path d="M614 254.8H644" stroke-width="1"/><path d="M624.2 254.8a5.0 5.0 0 1 0 10.0 0a5.0 5.0 0 1 0 -10.0 0z"/></g><g stroke="#1f6fb8" fill="none" stroke-width="1.2"><path d="M614 288.3H644" stroke-width="1"/><path d="M629.2 282.5L634.5 290.9H623.9z"/></g><g stroke="#e3241f" fill="none" stroke-width="1.2"><path d="M614 321.7H644" stroke-width="1"/><path d="M629.2 327.7L634.5 318.9H623.9z"/></g>
<text x="31.56" y="52.96" font-size="15.80" textLength="31.52" lengthAdjust="spacingAndGlyphs">100</text><text x="42.02" y="136.48" font-size="15.80" textLength="21.04" lengthAdjust="spacingAndGlyphs">10</text><text x="52.94" y="219.98" font-size="15.80" textLength="9.06" lengthAdjust="spacingAndGlyphs">1</text><text x="35.92" y="304.02" font-size="15.80" textLength="26.06" lengthAdjust="spacingAndGlyphs">0.1</text><text x="25.92" y="388.04" font-size="15.80" textLength="36.68" lengthAdjust="spacingAndGlyphs">0.01</text><text x="78.08" y="421.98" font-size="15.80" textLength="10.02" lengthAdjust="spacingAndGlyphs">0</text><text x="154.00" y="421.98" font-size="15.80" textLength="20.00" lengthAdjust="spacingAndGlyphs">50</text><text x="228.06" y="421.98" font-size="15.80" textLength="32.44" lengthAdjust="spacingAndGlyphs">100</text><text x="310.00" y="421.98" font-size="15.80" textLength="31.06" lengthAdjust="spacingAndGlyphs">150</text><text x="391.98" y="421.98" font-size="15.80" textLength="30.06" lengthAdjust="spacingAndGlyphs">200</text><text x="471.98" y="421.98" font-size="15.80" textLength="31.04" lengthAdjust="spacingAndGlyphs">250</text><text x="553.62" y="421.98" font-size="15.80" textLength="30.44" lengthAdjust="spacingAndGlyphs">300</text><text x="634.00" y="421.98" font-size="15.80" textLength="31.04" lengthAdjust="spacingAndGlyphs">350</text><text x="552.06" y="160.96" font-size="14.50" textLength="39.96" lengthAdjust="spacingAndGlyphs">IMC</text><text x="539.94" y="195.00" font-size="14.50" textLength="51.10" lengthAdjust="spacingAndGlyphs">KIND</text><text x="539.34" y="228.46" font-size="14.50" textLength="53.28" lengthAdjust="spacingAndGlyphs">LAWI</text><text x="534.54" y="262.46" font-size="14.50" textLength="57.40" lengthAdjust="spacingAndGlyphs">S<tspan font-size="11.31">PACER</tspan></text><text x="499.56" y="295.54" font-size="14.50" textLength="91.80" lengthAdjust="spacingAndGlyphs"><tspan font-size="11.31">SPLIT-</tspan>TPA</text><text x="565.10" y="327.98" font-size="14.50" textLength="25.90" lengthAdjust="spacingAndGlyphs">VB</text><text x="285.24" y="475.58" font-size="25.00" textLength="18.36" lengthAdjust="spacingAndGlyphs">#</text><text x="312.00" y="471.8" font-size="21.5" textLength="169.50" lengthAdjust="spacingAndGlyphs">solved problems</text><text transform="translate(18.0,252.90) rotate(-90)" x="0" y="0" font-size="21.5" textLength="117.90" lengthAdjust="spacingAndGlyphs">runtime (s)</text>
</svg>
</body></html>
